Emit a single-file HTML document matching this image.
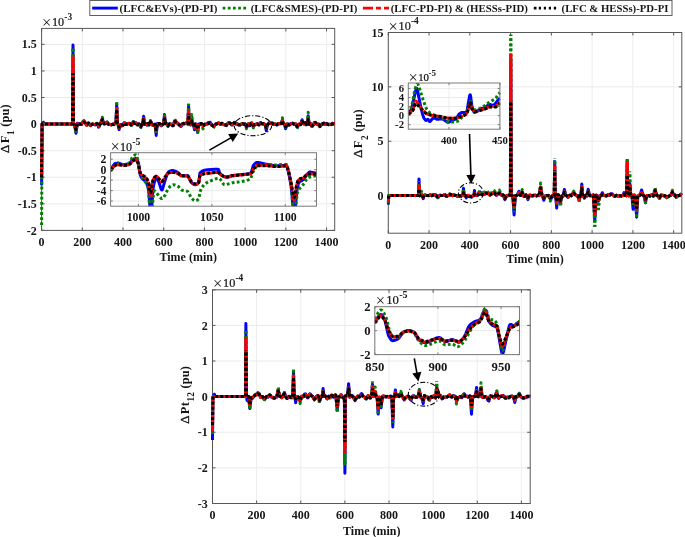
<!DOCTYPE html>
<html lang="en"><head><meta charset="utf-8"><title>Figure</title>
<style>html,body{margin:0;padding:0;background:#fff;}svg{display:block;}</style>
</head><body>
<svg width="685" height="537" viewBox="0 0 685 537" font-family='"Liberation Serif", "DejaVu Serif", serif' fill="#161616">
<rect width="685" height="537" fill="#fff"/>
<rect x="41.6" y="28.4" width="293.1" height="202" fill="#fff"/>
<line x1="41.6" y1="28.4" x2="41.6" y2="230.4" stroke="#ebebeb" stroke-width="0.9"/>
<line x1="82.31" y1="28.4" x2="82.31" y2="230.4" stroke="#ebebeb" stroke-width="0.9"/>
<line x1="123.02" y1="28.4" x2="123.02" y2="230.4" stroke="#ebebeb" stroke-width="0.9"/>
<line x1="163.72" y1="28.4" x2="163.72" y2="230.4" stroke="#ebebeb" stroke-width="0.9"/>
<line x1="204.43" y1="28.4" x2="204.43" y2="230.4" stroke="#ebebeb" stroke-width="0.9"/>
<line x1="245.14" y1="28.4" x2="245.14" y2="230.4" stroke="#ebebeb" stroke-width="0.9"/>
<line x1="285.85" y1="28.4" x2="285.85" y2="230.4" stroke="#ebebeb" stroke-width="0.9"/>
<line x1="326.56" y1="28.4" x2="326.56" y2="230.4" stroke="#ebebeb" stroke-width="0.9"/>
<line x1="41.6" y1="230.4" x2="334.7" y2="230.4" stroke="#ebebeb" stroke-width="1"/>
<line x1="41.6" y1="203.82" x2="334.7" y2="203.82" stroke="#ebebeb" stroke-width="1"/>
<line x1="41.6" y1="177.24" x2="334.7" y2="177.24" stroke="#ebebeb" stroke-width="1"/>
<line x1="41.6" y1="150.66" x2="334.7" y2="150.66" stroke="#ebebeb" stroke-width="1"/>
<line x1="41.6" y1="124.08" x2="334.7" y2="124.08" stroke="#ebebeb" stroke-width="1"/>
<line x1="41.6" y1="97.51" x2="334.7" y2="97.51" stroke="#ebebeb" stroke-width="1"/>
<line x1="41.6" y1="70.93" x2="334.7" y2="70.93" stroke="#ebebeb" stroke-width="1"/>
<line x1="41.6" y1="44.35" x2="334.7" y2="44.35" stroke="#ebebeb" stroke-width="1"/>
<line x1="41.6" y1="230.4" x2="41.6" y2="227.4" stroke="#585858" stroke-width="1"/>
<line x1="41.6" y1="28.4" x2="41.6" y2="31.4" stroke="#585858" stroke-width="1"/>
<line x1="82.31" y1="230.4" x2="82.31" y2="227.4" stroke="#585858" stroke-width="1"/>
<line x1="82.31" y1="28.4" x2="82.31" y2="31.4" stroke="#585858" stroke-width="1"/>
<line x1="123.02" y1="230.4" x2="123.02" y2="227.4" stroke="#585858" stroke-width="1"/>
<line x1="123.02" y1="28.4" x2="123.02" y2="31.4" stroke="#585858" stroke-width="1"/>
<line x1="163.72" y1="230.4" x2="163.72" y2="227.4" stroke="#585858" stroke-width="1"/>
<line x1="163.72" y1="28.4" x2="163.72" y2="31.4" stroke="#585858" stroke-width="1"/>
<line x1="204.43" y1="230.4" x2="204.43" y2="227.4" stroke="#585858" stroke-width="1"/>
<line x1="204.43" y1="28.4" x2="204.43" y2="31.4" stroke="#585858" stroke-width="1"/>
<line x1="245.14" y1="230.4" x2="245.14" y2="227.4" stroke="#585858" stroke-width="1"/>
<line x1="245.14" y1="28.4" x2="245.14" y2="31.4" stroke="#585858" stroke-width="1"/>
<line x1="285.85" y1="230.4" x2="285.85" y2="227.4" stroke="#585858" stroke-width="1"/>
<line x1="285.85" y1="28.4" x2="285.85" y2="31.4" stroke="#585858" stroke-width="1"/>
<line x1="326.56" y1="230.4" x2="326.56" y2="227.4" stroke="#585858" stroke-width="1"/>
<line x1="326.56" y1="28.4" x2="326.56" y2="31.4" stroke="#585858" stroke-width="1"/>
<line x1="41.6" y1="230.4" x2="44.6" y2="230.4" stroke="#585858" stroke-width="1"/>
<line x1="334.7" y1="230.4" x2="331.7" y2="230.4" stroke="#585858" stroke-width="1"/>
<line x1="41.6" y1="203.82" x2="44.6" y2="203.82" stroke="#585858" stroke-width="1"/>
<line x1="334.7" y1="203.82" x2="331.7" y2="203.82" stroke="#585858" stroke-width="1"/>
<line x1="41.6" y1="177.24" x2="44.6" y2="177.24" stroke="#585858" stroke-width="1"/>
<line x1="334.7" y1="177.24" x2="331.7" y2="177.24" stroke="#585858" stroke-width="1"/>
<line x1="41.6" y1="150.66" x2="44.6" y2="150.66" stroke="#585858" stroke-width="1"/>
<line x1="334.7" y1="150.66" x2="331.7" y2="150.66" stroke="#585858" stroke-width="1"/>
<line x1="41.6" y1="124.08" x2="44.6" y2="124.08" stroke="#585858" stroke-width="1"/>
<line x1="334.7" y1="124.08" x2="331.7" y2="124.08" stroke="#585858" stroke-width="1"/>
<line x1="41.6" y1="97.51" x2="44.6" y2="97.51" stroke="#585858" stroke-width="1"/>
<line x1="334.7" y1="97.51" x2="331.7" y2="97.51" stroke="#585858" stroke-width="1"/>
<line x1="41.6" y1="70.93" x2="44.6" y2="70.93" stroke="#585858" stroke-width="1"/>
<line x1="334.7" y1="70.93" x2="331.7" y2="70.93" stroke="#585858" stroke-width="1"/>
<line x1="41.6" y1="44.35" x2="44.6" y2="44.35" stroke="#585858" stroke-width="1"/>
<line x1="334.7" y1="44.35" x2="331.7" y2="44.35" stroke="#585858" stroke-width="1"/>
<rect x="41.6" y="28.4" width="293.1" height="202" fill="none" stroke="#585858" stroke-width="1"/>
<clipPath id="c1"><rect x="39.6" y="28.4" width="297.1" height="202"/></clipPath>
<g clip-path="url(#c1)">
<polyline points="41.6,185.2 42.1,124.1 42.4,124.1 43.4,122.2 44.4,124.1 72.6,124.1 73,44.9 73.5,124.4 73.9,124.5 74.6,125.1 75.3,129.6 76,133.2 77.4,123.2 79.3,123.6 80.5,124.5 80.8,124.6 81.1,124.5 81.5,124.3 82.1,123 82.6,122.2 83.9,120.9 85.2,122.4 86.4,125.1 86.8,125.1 87.1,124.9 88,123.3 88.4,122.8 88.6,122.9 88.9,123.2 89.9,125 90.4,125.6 91.6,124.6 92.5,124.2 93,124.3 93.9,124.4 95,124.9 95.4,124.9 95.8,124.6 96.7,123.6 97,123.4 97.5,124.2 98.6,127.2 99.1,126.3 100.2,123.4 100.6,123.3 101.7,120.5 102.3,118.9 103.2,121.5 103.9,123.9 104.6,124 105.5,123.6 106.2,122.5 107.1,122 107.9,123.5 108.8,124.4 109.2,124.1 109.5,124.2 110.2,124.4 110.6,124.8 110.9,124.8 111.5,124.7 111.8,124.7 112.1,124.4 112.4,124.2 113.7,124.7 114.1,124.6 115.2,123.3 115.5,123.2 115.9,123.3 116,122.8 116.7,104.6 117.4,123.4 117.5,124 117.9,124.1 119.1,129.6 120.4,124.8 120.9,124.6 121.3,124.7 121.6,124.9 122.2,125.6 122.6,125.7 123.2,125.1 123.8,123.3 124.1,122.8 124.4,122.7 124.8,123 125.5,124.2 125.9,124.6 126.3,124.6 127.5,123.7 128.5,123.5 129.1,123.2 129.6,123.4 130,123.7 131.2,125.1 131.6,125.1 131.8,125 132.8,122.6 133.4,121.6 134.1,122.6 134.6,123 135,123.2 135.6,122.6 135.9,122.8 136.3,123.3 137.3,124.9 137.8,124.8 138.7,124.1 138.9,124.1 139.1,124.2 139.7,124.8 140.3,126.5 140.9,127.4 142.1,124 142.6,124.1 143.6,116.3 144.6,123.7 145,123.7 145.8,123.9 146.3,124.6 147,125.2 147.6,123.9 148,123.7 148.3,123.6 149.1,124.9 149.7,123.7 150.5,120.9 151.1,121.9 151.9,124.3 152.3,124.7 152.7,124.9 153.1,124.9 154.5,124.5 155,124.2 156.2,135.4 157.4,123.5 157.8,123.9 158.1,124 158.4,123.9 159.1,123.6 159.6,123.7 160,124.2 160.8,125.5 161.2,125.8 161.6,125.6 162.7,123.8 163.1,123.6 163.5,123.7 164.5,114.6 165.6,123.3 166,123.3 166.6,123.8 167.3,125.5 168,126.5 168.7,125 169.4,123.8 170.5,124 171,124.2 171.4,124.5 172.4,125.8 172.7,125.9 172.9,125.8 173.3,125.2 174.1,122.3 174.5,121.2 174.9,120.6 175.3,120.4 175.9,121.7 176.3,122.3 177.4,123.1 177.9,123.4 179.1,125.1 179.8,125.7 181,126.5 181.8,125.3 182.7,123.7 183.2,123.3 183.8,123.3 184.6,123.5 185.1,123.2 185.4,123.2 186.3,123 187,123.3 187.7,123.8 187.8,123.4 188.6,106.5 189.3,123.7 189.4,124.2 190.4,124.9 190.8,125 191.8,120.1 192.8,124 193.4,124.2 194.5,129.7 195.5,123.8 196.2,124.3 196.5,124.4 197.7,132.5 198.9,123.9 199.5,124.7 200,124.8 200.4,124.6 201.2,123.7 201.5,123.7 201.9,124 203,125.5 203.5,125.3 204.8,124.2 206.5,124.1 207.7,123.1 208.1,122.5 208.3,122.7 208.6,122.7 209.4,122.3 209.7,122.3 210,122.2 210.2,122.3 210.5,122.6 211.9,125.2 212.2,125.5 213.2,126.1 214.4,125.6 215.6,124 216,123.6 216.3,123.5 217.6,123.5 218,123.3 218.7,122.7 219.1,123 219.9,123.8 220.3,124.1 220.7,124.1 221.4,123.5 221.9,123.3 222.3,123.6 223.2,124.5 223.5,124.8 223.8,124.8 224.5,124.7 225,124.8 225.9,125.4 226.2,125.5 226.4,125.4 226.7,125.1 227.8,123.2 228.5,122.8 228.8,122.8 229.5,123 229.9,123 230.7,123.7 231.5,124.8 232,125 232.5,124.6 234,122.5 234.4,122.4 235,122.3 235.4,123.2 235.8,123.6 236.4,123.8 236.8,123.5 237.1,123.5 237.4,123.7 238.2,124.7 238.9,125.1 239.7,125 240.1,125.1 241.3,124.2 241.7,123.8 242.4,123.6 242.9,123.7 243.7,124.3 244.1,124.5 244.5,124.4 245.1,124 245.8,125.4 246.4,127.6 247.1,126.3 247.6,124.8 248.4,123.8 248.9,124.3 249.6,125.8 250.2,125.1 250.8,123.7 251.3,123.1 251.7,122.8 252.2,123.5 253.2,126.2 253.3,126.4 253.4,126.4 253.6,126.4 253.9,126.1 254.9,124.5 255.2,124.4 257.3,124.1 257.7,124.2 258.5,124.8 258.8,124.8 259,124.7 259.4,124.3 260.3,122.8 260.6,122.6 260.8,122.6 261.1,122.7 262.1,123.7 262.5,123.8 263.3,123.5 263.6,123.4 263.9,123.6 264.2,124 265.3,125.7 266.3,130.8 267.3,124.9 267.8,124.4 269.2,122.6 269.5,122.5 269.9,122.6 270.7,123.1 271,123.2 271.3,123.1 271.6,122.9 272.3,123 272.7,123.2 273.6,124.3 273.8,124.4 274.2,124.5 275.1,124.1 275.4,124.1 275.7,124.3 276.1,124.7 276.6,124.9 276.9,125 277.3,124.7 277.7,124.1 278.4,123.8 278.8,123.7 279.3,123.7 280.9,123 281.3,122.9 281.6,123 282.4,119.7 283.2,123.5 283.9,123.6 284.4,124 285.6,128.8 286.2,127.2 286.9,124.3 287.2,124 287.5,123.9 287.8,124 288.6,124.7 289,124.9 289.4,124.7 290.5,123.6 291.1,123.4 292.4,123.2 292.9,123.3 293.3,123.6 294.1,124.3 294.5,124.5 294.9,124.4 295.6,123.8 296.2,124.8 297,127.1 297.7,126.5 298.5,124.7 298.8,124.5 299.1,124.3 299.4,124.2 300.3,124.6 300.7,124.5 302.1,119.8 302.6,121 303.6,123.8 304.2,124 305.2,122.6 306.2,124.8 306.6,124.8 307.1,124.4 307.4,124.1 308.2,115.7 309.1,124.2 309.4,124.2 309.7,124.1 310.5,123.4 310.8,123.8 311.1,124.4 311.7,126.3 312.2,126.4 312.5,126.2 314.2,122.9 314.5,122.5 315,122.4 315.4,122.4 316,123.4 316.8,124.3 317.6,124.7 318,124.7 318.4,124.6 318.8,124.2 319.5,125.4 320,126.7 321.3,124.3 321.7,124.1 322.5,123.5 322.9,123.5 323.4,123.1 324.1,123 324.7,124.2 325,124.5 325.3,124.6 325.8,123.9 326.4,123.6 327,123.9 327.7,124.5 328.6,124.7 329,124.3 329.3,124.3 330.5,124.6 330.8,124.6 331,124.5 332,123.5 332.7,123.2 333.4,123.6 334.7,123.8" fill="none" stroke="#0000ff" stroke-width="3" stroke-linejoin="round"/>
<polyline points="41.6,225.1 42.1,124.1 72.6,124.1 73,46.5" fill="none" stroke="#008000" stroke-width="3" stroke-linejoin="round" stroke-dasharray="2.8 2.3" stroke-dashoffset="0"/>
<polyline points="73,46.5 73.5,123.9 73.9,124.1 74.6,124.8 75.3,129.5 76,133.3 77.4,123.6 78.2,123.9 79.6,123.9 80.8,124.5 81.3,124.4 81.5,124.3 82.7,121.8 83.9,120.6 85.4,122.7 86.4,125 86.7,125.2 87,125.2 87.3,125 88.3,123.6 88.5,123.4 88.8,123.5 89.1,123.8 90.4,125.6 91.8,124.3 92.5,123.8 93.8,124.2 94.9,124.8 95.3,124.9 95.8,124.6 96.7,123.6 97,123.3 97.3,123.7 97.6,124.4 98.6,127.2 98.9,126.9 99.2,126.4 100.2,123.6 100.6,123.5 101.7,119.5 102.3,117.2 103.3,120.7 103.9,123.3 104.8,123.8 105.5,123.8 106.3,122.5 106.6,122.2 107.1,122 108,123.9 108.3,124.3 108.8,124.8 109.3,124.4 109.7,124.3 110.2,124.3 110.9,124.8 111.8,124.9 112.1,124.6 112.4,124.4 113.8,124.5 114.2,124.3 115.2,123 115.5,122.9 115.9,123 116,122.5 116.7,102.4" fill="none" stroke="#008000" stroke-width="3" stroke-linejoin="round" stroke-dasharray="2.8 2.3" stroke-dashoffset="2.8"/>
<polyline points="116.7,102.4 117.4,123.4 117.5,124 117.9,124.2 119.1,128.1 119.7,127.1 120.4,125 121,124.6 121.6,124.7 122,125.7 122.4,126.4 122.7,126.6 123.2,126.7 123.9,124 124.2,123.3 124.6,122.9 124.8,122.9 125.5,124.2 125.8,124.6 126,124.7 126.4,124.5 127.5,123.7 128.5,123.5 129.1,123.1 129.5,123.2 129.9,123.6 131.2,125.3 131.6,125.3 131.8,125.2 132.8,122.6 133.4,121.6 134.1,122.8 134.6,123.2 135,123.2 135.6,122.6 135.9,122.7 136.3,123.2 137.3,124.9 137.5,124.9 137.8,124.8 138.8,124 138.9,123.9 139.2,124.1 139.7,124.6 140.3,126.3 140.9,127.3 142.1,124.3 142.6,124.4 143.6,116.4 144.6,123.9 145.5,124 145.8,123.9 146.2,124.2 147,124.5 147.5,123.6 148,123.5 148.3,123.6 148.8,124.7 149.1,125 149.6,123.9 150.5,120.8 151.1,122.1 151.9,124.8 152.1,125 152.4,125.2 152.7,125.2 153.8,124.6 154.6,124.5 155,124.3 156.2,134 157.4,123 158.1,123.5 159,123.6 159.5,123.8 159.9,124.2 160.7,125.5 161.2,125.8 161.4,125.8 161.7,125.6 162.8,124.3 163.5,123.9 164.5,115.5 165.6,123.3 166.6,123.9 167.2,125 168,126.1 168.5,125.2 169.4,124.1 169.8,124.1 170.5,124 171,124.1 171.3,124.4 172.4,125.9 172.7,126 172.9,125.9 173.3,125.3 174.1,122.5 174.5,121.4 174.9,120.7 175.3,120.4 175.9,121.6 176.4,122.3 177.4,123.2 178,123.6 178.9,124.8 179.9,125.8 181,126.5 182.7,123.5 182.9,123.4 183.2,123.4 184.5,123.7 184.8,123.5 185.1,123.3 186.2,123 187,123.4 187.7,123.8 187.8,123.3 188.6,103.8" fill="none" stroke="#008000" stroke-width="3" stroke-linejoin="round" stroke-dasharray="2.8 2.3" stroke-dashoffset="0.39"/>
<polyline points="188.6,103.8 189.3,123.4 189.4,124 190.8,124.8 191.8,114.4 192.8,124 193.4,124 194.5,128.2 195.5,124.1 196.1,124.3 196.5,124.3 197.7,132.5 198.9,123.9 199.5,124.5 200,124.6 200.3,124.4 201.2,123.6 201.7,124.8 203,128.9 204.8,124.1 205.7,124.3 206.2,124.3 206.5,124.3 207.2,123.8 208.1,123.5 208.4,123.7 208.7,123.7 209.1,123.4 209.9,122.5 210.2,122.3 210.4,122.4 210.7,122.7 211.4,123.8 212.2,126.5 213.2,128.4 215,124.7 216.3,123.6 217.9,123.2 218.7,122.9 219.9,124 220.2,124.2 220.5,124.2 220.7,124.2 221.6,123.3 222,123.2 222.4,123.5 223.5,124.7 223.8,124.8 224.5,124.6 225.1,124.6 225.4,124.8 226.1,125.6 226.4,125.7 226.7,125.5 227,125.1 228,123.1 228.5,122.7 228.8,122.6 229.9,123.1 231.5,124.6 232,124.7 232.5,124.6 233.8,123.1 234.3,122.9 235,123.1 235.4,123.7 235.8,124 236.4,123.9 236.8,123.6 237.1,123.7 237.4,123.9 238.2,124.8 238.9,125.3 240.1,125.1 241.2,124.2 241.7,123.6 242.4,123.3 242.9,123.5 243.8,124.4 244.1,124.6 244.5,124.6 245.1,124.2 245.8,126.1 246.4,128.7 247.1,126.7 247.6,124.7 248.4,123.7 248.9,124.2 249.6,125.6 249.9,125.4 250.2,125 250.8,123.7 251.3,123.1 251.7,123 252.2,124.2 253.3,127.9 253.8,127 254.9,124.3 256,124.4 257.3,124.1 257.7,124.3 258.5,125 258.8,125 259,124.9 259.3,124.5 260.2,122.8 260.5,122.4 260.7,122.4 261,122.5 261.8,123.6 262.1,123.9 262.5,123.9 263.5,123.5 264,123.8 264.9,125.2 265.3,125.6 266.3,129.2 267.3,124.8 268.7,123.1 269.1,122.7 269.5,122.7 270.7,123.4 271.1,123.3 271.6,122.9 272.2,122.9 272.6,123.2 273.4,124.3 273.7,124.5 274.1,124.4 274.9,123.9 275.3,123.9 275.6,124.1 276.1,124.8 276.4,125 276.7,125.1 276.9,125.1 277.2,124.8 277.7,123.8 278.2,123.5 278.6,123.5 279.3,123.9 279.5,123.8 280,123.7 281,123 281.3,122.9 281.6,123 282.4,117.8 283.2,123.9 283.9,123.8 284.4,124.1 285.6,127.3 286.2,126.2 286.9,124.1 287.3,123.8 287.5,123.7 287.8,123.8 288.8,124.6 289.3,124.8 289.7,124.7 291.1,123.7 292.2,123.3 292.6,123.3 292.9,123.4 293.9,124.2 294.3,124.3 294.7,124.2 295.6,123.5 296.2,125.4 297,128.8 297.8,127.1 298.5,124.5 298.9,124.2 299.3,124.1 300.3,124.6 300.7,124.7 302.1,120.7 302.7,121.7 303.6,123.8 304.2,124 305.2,122.5 306.2,124.3 306.7,124.3 307.4,124.1 308.2,112.3 309.1,124.3 309.7,124.2 310.5,123.7 311.1,124.7 311.7,126.2 312.2,126 312.5,125.7 312.9,125 313.9,123.6 314.7,122.1 315.4,121.4 316.1,123.1 316.8,124.4 318,124.5 318.8,124.1 320,128.1 321.3,124.2 321.7,124.2 322.6,123.8 323.5,123.7 324.1,123.7 324.6,124.4 325.1,124.5 325.3,124.4 326,123.8 326.5,123.7 327,123.8 327.8,124.5 328.6,124.8 329.2,124.4 330.5,124.5 330.8,124.5 331,124.3 331.7,123.5 332.3,123.2 332.7,123.2 333.2,123.7 333.6,124 334.3,123.9 334.7,123.8" fill="none" stroke="#008000" stroke-width="3" stroke-linejoin="round" stroke-dasharray="2.8 2.3" stroke-dashoffset="0.8"/>
<polyline points="41.6,177.2 42.1,124.1 72.6,124.1 73,56.6" fill="none" stroke="#ff0000" stroke-width="3" stroke-linejoin="round" stroke-dasharray="6.4 0.6" stroke-dashoffset="0"/>
<polyline points="73,56.6 73.5,123.9 73.9,124.1 74.6,124.7 75.3,127.7 76,130 76.7,126.4 77.4,123.5 78.2,123.9 79.5,124.1 80.5,124.5 81,124.6 81.5,124.3 82.6,122.4 83.9,121.3 85.2,122.8 86.4,124.9 86.7,125 87,124.8 88,123.6 88.4,123.2 88.9,123.6 89.9,125.1 90.4,125.4 91.5,124.4 92.2,124 92.5,123.9 95.3,124.6 95.8,124.4 97,123.5 97.5,124.2 98.6,126.3 99.1,125.7 100.2,123.8 100.6,123.8 101.6,121 102.3,119.1 103.9,123.8 104.7,123.8 105.5,123.6 106.2,122.7 107.1,122.3 107.9,123.6 108.8,124.6 109.5,124.5 110.2,124.6 110.8,124.8 111.8,124.7 112.1,124.4 112.4,124.3 114,124.2 115.2,123.4 115.5,123.3 115.9,123.5 116,123.1 116.7,107.9" fill="none" stroke="#ff0000" stroke-width="3" stroke-linejoin="round" stroke-dasharray="6.4 0.6" stroke-dashoffset="2.3"/>
<polyline points="116.7,107.9 117.4,123.6 117.5,124 117.9,124.1 119.1,127.5 119.7,126.5 120.4,124.8 121,124.6 121.6,124.7 122.2,125.2 122.5,125.3 122.8,125.2 123.2,125 123.8,123.7 124.1,123.3 124.4,123.1 124.8,123.1 125.7,124 126.3,124.2 127.1,124.2 128.1,123.9 128.6,123.7 129.1,123.3 129.4,123.4 130,123.7 131.2,124.8 131.5,124.9 131.8,124.8 132.8,123 133.4,122.2 134.1,123 134.6,123.4 135,123.5 135.6,123.1 135.9,123.2 136.3,123.5 137.3,124.8 137.8,124.7 138.9,124 139.5,124.1 139.7,124.3 140.3,125.5 140.9,126.4 142.1,124.3 142.6,124.4 143.6,119.1 144.6,124 145.8,124.1 146.3,124.5 147,124.7 147.6,123.7 148,123.5 148.3,123.4 149.1,124.4 149.7,123.6 150.5,121.8 151.1,122.7 151.9,124.5 152.2,124.7 152.6,124.8 153,124.8 154.5,124.5 155,124.3 156.2,130.7 157.4,123.4 158.1,123.7 159,123.6 159.5,123.7 159.9,124 160.8,125.1 161.2,125.3 161.6,125.2 162.7,124.2 163.1,124.1 163.5,124.2 164.5,117.9 165.6,123.6 166.1,123.5 166.6,123.5 168,125.4 168.6,124.7 169.4,124.1 169.9,124.2 171.2,124.3 171.6,124.5 172.5,125.5 172.8,125.5 173,125.5 173.3,125.2 174.6,121.9 174.9,121.5 175.3,121.2 176.2,122.4 177.4,123.4 177.9,123.7 179,124.7 181,125.9 181.7,125 182.7,123.7 183,123.5 183.3,123.5 184.5,123.8 184.8,123.8 185.1,123.5 186.2,123.2 186.5,123.3 187.7,124.2 187.8,123.8 188.6,109.8" fill="none" stroke="#ff0000" stroke-width="3" stroke-linejoin="round" stroke-dasharray="6.4 0.6" stroke-dashoffset="4.83"/>
<polyline points="188.6,109.8 189.3,123.4 189.4,123.8 189.9,123.9 190.8,124.6 191.8,120.7 192.8,124.1 193.4,124.1 194.5,127.6 195.5,124.1 196.1,124.4 196.5,124.5 197.7,129.4 198.3,126.3 198.9,123.9 199.4,124.3 199.9,124.5 200.3,124.3 201.2,123.6 201.7,124 203,125.9 204.2,124.7 204.8,124.3 205.8,124.6 206.5,124.6 208.1,123.2 208.6,123.2 209.4,122.8 209.9,122.7 210.2,122.8 210.5,123 212,125.1 213.2,126 214.4,125.4 215,124.7 216,123.8 216.3,123.7 217.8,123.6 218.7,123.2 220,124 220.4,124.1 220.7,124 221.6,123.4 222,123.4 222.5,123.6 223.6,124.5 225.1,124.7 226,125.2 226.3,125.2 226.7,125 227.8,123.8 228.5,123.4 229.9,123.1 230.8,123.6 231.5,124.2 231.9,124.3 232.5,124.2 234,123.3 235,123.3 235.4,123.8 235.7,124 236.4,124.1 237,124 238.1,124.6 238.7,124.8 239.6,124.6 240.1,124.6 241.7,123.8 242.7,123.6 244.1,124.4 244.5,124.4 245.1,124.2 245.8,125.2 246.4,126.6 247.1,125.8 247.6,124.8 248.4,124.1 248.9,124.1 249.6,124.6 250.2,124.1 250.8,123.3 251.3,123.1 251.7,123 252,123.4 253.3,126 253.9,125.7 254.9,124.6 255.9,124.4 257,124 257.6,124 258.6,124.5 259,124.6 259.4,124.3 260.3,123.2 260.8,123 261.1,123.1 261.8,123.7 262.2,123.9 262.5,123.9 263.5,123.7 264.1,123.9 265.3,125.1 266.3,127.8 267.3,124.8 267.8,124.4 268.8,123.3 269.2,123 269.8,123 270.9,123.6 271.2,123.5 271.6,123.3 272.4,123.2 272.8,123.4 273.6,124.2 273.9,124.3 274.3,124.4 275.4,124.1 275.7,124.2 276.1,124.5 276.6,124.6 276.9,124.6 277.3,124.4 277.7,123.9 278.3,123.7 278.8,123.7 279.3,123.9 280,123.8 281.1,123.5 281.6,123.5 282.4,120.6 283.2,123.7 283.9,123.6 284.4,123.8 285.6,126.6 286.2,125.8 286.9,124.1 287.3,123.7 287.5,123.7 287.8,123.7 288.8,124.8 289.3,125 289.7,124.8 291.1,123.8 292,123.5 292.6,123.3 293.1,123.4 294.1,124.2 294.5,124.3 294.9,124.2 295.6,123.7 296.2,124.5 297,126.4 297.7,126 298.5,124.6 298.9,124.3 299.4,124.2 300.3,124.6 300.7,124.6 302.1,121.4 302.7,122.2 303.6,123.9 304.2,124 305.2,122.7 306.2,124.2 306.7,124.2 307.4,124.1 308.2,118.2 309.1,124.3 309.6,124.2 310.5,123.6 311,124.3 311.7,126 311.8,126 312.2,126 312.5,125.8 313.3,124.6 314.3,122.8 314.7,122.5 315.1,122.3 315.4,122.3 316.1,123.4 316.8,124.3 317.9,124.5 318.3,124.4 318.8,124.1 319.5,125.1 320,126.2 321.3,124.4 321.8,124.3 322.5,124 322.9,123.9 323.3,123.8 324.1,123.7 324.6,124.2 325.1,124.3 325.3,124.3 326,123.7 326.6,123.7 327,123.7 327.7,124.1 328.6,124.3 328.9,124.2 329.3,124.2 330.5,124.7 330.8,124.8 331.1,124.7 332.7,123.6 334.1,123.6 334.7,123.7" fill="none" stroke="#ff0000" stroke-width="3" stroke-linejoin="round" stroke-dasharray="6.4 0.6" stroke-dashoffset="5.61"/>
<polyline points="41.6,177.2 42.1,124.1 72.6,124.1 73,73.6" fill="none" stroke="#000000" stroke-width="3" stroke-linejoin="round" stroke-dasharray="3 2.1" stroke-dashoffset="0"/>
<polyline points="73,73.6 73.5,124.2 73.9,124.2 74.6,124.7 75.3,127.4 76,129.5 76.8,125.7 77.4,123.3 78.9,124 80.2,124.3 80.9,124.2 81.5,124 82.4,123 83.9,122 85.3,123.1 86.4,124.6 86.5,124.7 86.9,124.7 87.2,124.5 88.4,123.3 88.7,123.3 89.1,123.6 90.4,125.2 91.4,124.9 92.5,124.3 93.6,124 94.2,124.1 95.2,124.4 95.6,124.4 97,123.6 97.6,124.3 98.6,125.9 99.1,125.5 100.2,124 100.6,124 102.3,119.5 103.9,123.8 104.5,123.8 105.5,123.4 106.2,122.8 107.1,122.6 107.9,123.8 108.8,124.6 110.6,124.6 111.4,124.4 111.8,124.5 112.3,124.2 113.8,124.3 115.1,123.5 115.5,123.4 115.9,123.6 116,123.2 116.7,109.5" fill="none" stroke="#000000" stroke-width="3" stroke-linejoin="round" stroke-dasharray="3 2.1" stroke-dashoffset="1.5"/>
<polyline points="116.7,109.5 117.4,123.5 117.5,123.9 117.9,124.1 119.1,127 120.4,124.7 120.9,124.7 121.6,124.8 122.1,125.1 122.5,125.1 123.2,124.7 123.7,123.6 123.9,123.4 124.2,123.2 124.8,123.4 125.5,124.2 126,124.4 128.2,123.8 129.1,123.3 129.2,123.3 129.8,123.6 130.9,124.7 131.3,124.9 131.8,124.7 132.7,123.2 133.4,122.5 134,123.2 134.5,123.5 135,123.5 135.6,123 135.9,123.1 137.3,124.6 137.7,124.6 138.6,124 139,124 139.7,124.5 140.3,125.6 140.9,126.2 141.6,124.8 142,124.1 142.1,124 142.6,124.2 143.6,119.8 144.6,124.2 145.8,124 146.2,124.2 147,124.3 147.5,123.6 148,123.4 148.3,123.4 149.1,124.6 149.6,123.9 150.5,121.7 151.1,122.6 151.9,124.7 152.3,125 152.6,125.1 152.9,125.1 154,124.6 155,124.3 156.2,129.6 157.4,123.2 158.1,123.5 159,123.4 159.5,123.5 159.9,123.9 160.9,125.4 161.2,125.6 161.5,125.5 162.7,124.2 163.1,124 163.5,124.1 164.5,118.8 165.6,123.5 166.1,123.4 166.6,123.7 167.3,124.8 168,125.5 168.7,124.5 169.4,123.9 170,124 170.8,124 171.3,124.1 171.7,124.4 172.6,125.5 172.9,125.6 173.1,125.6 173.3,125.4 173.5,125 174.6,122.3 174.9,121.8 175.3,121.5 176.1,122.6 176.6,123.1 177.4,123.5 178,123.7 178.9,124.3 179.4,124.6 181,125.6 181.7,125.1 182.7,124 183.2,123.6 183.8,123.6 184.8,123.9 185.1,123.8 185.5,123.8 186.5,123.5 187.1,123.6 187.7,123.8 187.8,123.6 188.6,113.8" fill="none" stroke="#000000" stroke-width="3" stroke-linejoin="round" stroke-dasharray="3 2.1" stroke-dashoffset="4.29"/>
<polyline points="188.6,113.8 189.3,123.6 189.4,123.9 190.8,124.5 191.8,121 192.8,123.9 193.4,124.1 194.5,127.5 195.5,124.2 196.5,124.3 197.7,129.2 198.9,123.9 199.4,124.1 199.9,124.1 201.2,123.4 201.8,124 203,126.1 203.5,125.8 204.8,124.2 206.5,124.5 207.5,124 208.1,123.5 208.6,123.4 209.4,122.9 210,122.7 210.3,122.7 210.6,123 211.4,123.8 212.1,125 213.2,126 214.4,125.2 215,124.6 216,124.2 216.6,124 218.7,123.2 219.8,123.8 220.3,124 220.7,123.9 221.6,123.4 222.1,123.4 223.6,124.3 225.1,124.8 226.2,125.3 226.7,125.1 227.9,123.8 228.6,123.4 229.1,123.2 229.9,123.1 231.2,124.2 231.6,124.5 232.1,124.4 233.1,123.6 234,123.3 235,123.3 235.4,123.7 235.8,123.9 236.4,124 237,123.9 238,124.6 238.8,124.8 239.6,124.7 240.1,124.8 241.7,123.8 242.2,123.7 242.7,123.7 244,124.2 245.1,123.9 245.7,124.7 246.4,126.3 247,125.7 247.6,124.5 248.4,123.9 248.8,124.1 249.6,125.1 249.7,125.1 250.2,124.8 250.8,123.9 251.3,123.4 251.7,123.2 252.2,123.7 253.3,125.5 253.8,125.2 254.9,124.4 255.8,124.5 257,123.9 257.6,124 258.6,124.9 259,124.9 259.4,124.5 260.3,123.3 260.6,123.1 260.8,123.1 262.1,123.8 262.4,123.8 263.4,123.5 263.7,123.6 264,123.8 264.9,124.7 265.3,124.9 266.3,127.3 267.3,124.9 267.9,124.5 268.9,123.4 269.3,123 269.8,123.1 270.6,123.6 271,123.8 272,123.3 272.5,123.3 272.9,123.5 273.6,124.1 273.9,124.2 274.2,124.2 275.1,123.8 275.4,123.9 275.7,124 276.1,124.4 276.7,124.7 277.2,124.6 277.7,124 278.3,123.8 278.7,123.9 279.3,124.3 279.8,124.3 280.3,124.1 281.2,123.3 281.6,123.1 282.4,120.7 283.2,123.6 283.9,123.7 284.4,124 285.6,126.6 286.2,125.8 286.9,124 287.2,123.8 287.4,123.8 287.7,123.8 288.6,124.8 289,125 289.4,124.8 290.4,123.7 290.9,123.6 292.1,123.8 293.4,123.8 294.5,124.1 294.9,124.1 295.6,123.7 296.3,124.7 297,126.4 297.7,126 298.1,125.4 298.5,124.6 299.1,124.2 299.6,124.1 300.4,124.6 300.7,124.7 301.2,123.7 302.1,121.4 302.6,122 303.6,123.8 303.8,123.9 304.2,124.1 305.2,122.9 306.2,124.1 306.7,124.2 307.2,124.1 307.4,124.1 308.2,119.5 309.1,124.3 309.7,124.4 310.5,123.9 311.1,124.4 311.7,125.5 312.3,125.5 312.6,125.3 313.4,124.5 314.5,122.8 315,122.5 315.4,122.4 316.1,123.4 316.8,124.2 318.1,124.4 318.8,124.2 319.5,125.2 320,126.1 321.3,124.3 321.9,124.3 322.9,123.9 323.4,123.6 324.1,123.5 324.6,124.1 325.1,124.4 325.3,124.4 326.2,123.8 326.7,123.7 327,123.7 327.7,124.2 328.6,124.5 329.1,124.2 329.5,124.2 330.2,124.2 331,124.5 332.7,123.8 333.3,123.9 334.7,123.7" fill="none" stroke="#000000" stroke-width="3" stroke-linejoin="round" stroke-dasharray="3 2.1" stroke-dashoffset="2.43"/>
</g>
<text x="36.8" y="234.5" font-size="12" text-anchor="end" font-weight="bold">-2</text>
<text x="36.8" y="207.92" font-size="12" text-anchor="end" font-weight="bold">-1.5</text>
<text x="36.8" y="181.34" font-size="12" text-anchor="end" font-weight="bold">-1</text>
<text x="36.8" y="154.76" font-size="12" text-anchor="end" font-weight="bold">-0.5</text>
<text x="36.8" y="128.18" font-size="12" text-anchor="end" font-weight="bold">0</text>
<text x="36.8" y="101.61" font-size="12" text-anchor="end" font-weight="bold">0.5</text>
<text x="36.8" y="75.03" font-size="12" text-anchor="end" font-weight="bold">1</text>
<text x="36.8" y="48.45" font-size="12" text-anchor="end" font-weight="bold">1.5</text>
<text x="41.6" y="246.3" font-size="12" text-anchor="middle" font-weight="bold">0</text>
<text x="82.31" y="246.3" font-size="12" text-anchor="middle" font-weight="bold">200</text>
<text x="123.02" y="246.3" font-size="12" text-anchor="middle" font-weight="bold">400</text>
<text x="163.72" y="246.3" font-size="12" text-anchor="middle" font-weight="bold">600</text>
<text x="204.43" y="246.3" font-size="12" text-anchor="middle" font-weight="bold">800</text>
<text x="245.14" y="246.3" font-size="12" text-anchor="middle" font-weight="bold">1000</text>
<text x="285.85" y="246.3" font-size="12" text-anchor="middle" font-weight="bold">1200</text>
<text x="326.56" y="246.3" font-size="12" text-anchor="middle" font-weight="bold">1400</text>
<text x="42" y="28.1" font-size="16.5" font-weight="normal">&#215;</text>
<text x="52" y="26.3" font-size="12.2" font-weight="normal" stroke="#000" stroke-width="0.2">10</text>
<text x="64.3" y="20.3" font-size="9.4" font-weight="bold">-3</text>
<text x="188.2" y="261.3" font-size="12" text-anchor="middle" font-weight="bold">Time (min)</text>
<text transform="translate(8.7,152.9) rotate(-90)" font-size="12.4" font-weight="bold"><tspan font-weight="normal" font-size="13" stroke="#000" stroke-width="0.3">&#916;</tspan><tspan dx="1.2" letter-spacing="0.4">F</tspan><tspan font-size="9.3" dy="5.2" dx="0.3">1</tspan><tspan dy="-5.2" dx="3.6" letter-spacing="0.1">(pu)</tspan></text>
<ellipse cx="252.9" cy="125.7" rx="18.8" ry="10" fill="none" stroke="#000" stroke-width="1.1" stroke-dasharray="5 2 1.2 2"/>
<line x1="209.4" y1="150.1" x2="231.26" y2="137.58" stroke="#000" stroke-width="1.6"/>
<polygon points="238.2,133.6 232.68,142.07 228.1,134.08" fill="#000"/>
<rect x="110.6" y="152.7" width="205.9" height="53.5" fill="#fff"/>
<line x1="138.48" y1="152.7" x2="138.48" y2="206.2" stroke="#ebebeb" stroke-width="0.9"/>
<line x1="211.86" y1="152.7" x2="211.86" y2="206.2" stroke="#ebebeb" stroke-width="0.9"/>
<line x1="285.24" y1="152.7" x2="285.24" y2="206.2" stroke="#ebebeb" stroke-width="0.9"/>
<line x1="110.6" y1="201.07" x2="316.5" y2="201.07" stroke="#ebebeb" stroke-width="1"/>
<line x1="110.6" y1="190.62" x2="316.5" y2="190.62" stroke="#ebebeb" stroke-width="1"/>
<line x1="110.6" y1="180.16" x2="316.5" y2="180.16" stroke="#ebebeb" stroke-width="1"/>
<line x1="110.6" y1="169.7" x2="316.5" y2="169.7" stroke="#ebebeb" stroke-width="1"/>
<line x1="110.6" y1="159.24" x2="316.5" y2="159.24" stroke="#ebebeb" stroke-width="1"/>
<clipPath id="c2"><rect x="110.6" y="152.7" width="207.4" height="53.5"/></clipPath>
<g clip-path="url(#c2)">
<polyline points="110.6,169.2 111.1,168.7 111.6,168.1 114.2,164.3 114.7,163.8 115.2,163.5 117.3,163.1 118.3,163.1 118.9,163.2 122,164.4 123,164.6 125,164.5 127.6,164.1 128.7,163.8 129.2,163.6 129.7,163.2 132.3,160.1 133.3,159.3 134.9,158.8 135.9,158.5 136.4,158.6 136.9,159.1 137.4,160.2 138.5,163.3 139,166.3 139.5,170.6 140,173.8 140.5,175.5 141,176.8 141.6,177.7 142.1,178.5 143.1,179.4 144.7,180.4 145.7,181.5 146.2,182.3 146.7,183.4 147.8,186.6 148.3,188.7 148.8,191.5 150.3,212 150.9,214.7 151.4,212 152.9,190.5 153.4,186.6 153.9,184 155,179.7 155.5,178.4 156,177.7 156.5,177.8 157,178.4 157.6,179.3 159.1,182.7 161.2,189.2 161.7,190 162.2,189.8 162.7,188.6 164.3,182.9 164.8,181.2 166.3,176.5 167.4,173.8 167.9,172.7 168.4,172.1 169.9,171.1 171.5,170.6 172.5,170.5 174.1,170.8 175.6,171.4 177.2,172.1 178.2,172.7 178.7,173.1 180.3,174.9 180.8,175.4 181.3,175.7 181.8,175.8 187.5,175.8 188,176.1 188.5,176.9 190.6,181.5 191.1,182.3 192.7,183.6 193.7,184.3 194.7,184.7 195.2,184.7 196.3,184.4 197.3,183.6 198.3,182.4 198.8,181.5 199.9,173.2 200.4,172.5 201.9,171.3 203,170.7 204.5,170.3 207.6,169.8 211.2,169.5 214.8,169.2 217.9,169.2 218.5,169.6 219.5,172.3 220,173.4 221,174.4 222.6,175.6 224.1,176.5 225.7,177.1 226.7,177.1 228.3,176.8 230.8,175.8 232.4,175.4 246.8,173.9 249.4,173.4 251,172.9 251.5,171.9 253,166.4 253.5,165.2 255.1,163.4 256.1,162.7 256.6,162.5 258.2,162.6 259.7,162.8 270.6,165.1 273.7,165.6 276.8,165.7 286.1,165.4 286.6,165.5 287.1,166.7 288.6,173 289.7,178 290.7,184 291.2,187.5 291.7,192.3 293.3,209.7 293.8,213.4 294.3,214.7 294.8,212.6 295.3,207.8 296.4,195.4 296.9,190.5 297.9,185.4 298.4,183.6 299,182.5 300,181.5 301,180.9 302.6,180.1 303.6,179.4 304.6,178.2 307.7,173.7 308.8,172.6 309.3,172.2 309.8,172 310.8,172.1 314.4,172.8 316.5,173" fill="none" stroke="#0000ff" stroke-width="3" stroke-linejoin="round"/>
<polyline points="110.6,170.7 111.1,170.4 111.6,169.9 114.2,166.1 114.7,165.5 115.2,165.1 116.8,164.2 117.8,163.9 118.3,163.8 119.4,164 122.5,164.6 124,164.6 126.1,164.2 128.7,163.5 129.2,163.1 129.7,162.3 131.8,158.4 132.3,157.6 133.3,156.5 134.3,155.5 135.4,154.8 135.9,154.7 136.4,155.3 136.9,156.7 138,160.8 138.5,163.2 139.5,170.2 140,172.9 140.5,174.6 141.6,177 142.6,178.8 145.2,181.9 146.7,183.4 147.2,184 147.8,185.1 148.3,188.9 149.8,209.4 150.3,214.6 150.9,216.6 151.4,215 151.9,210.9 153.4,194.8 153.9,191.6 154.5,191 155,191.2 156,192.2 157.6,194.2 160.7,197.9 161.2,198.4 161.7,198.6 162.2,198.5 162.7,198.2 163.2,197.7 164.8,195.6 165.8,193.7 167.4,190 167.9,189 168.4,188.2 170.5,186.1 172,185 173,184.7 174.6,184.9 176.1,185.4 178.2,186.4 179.2,187.4 180.8,189.3 181.3,189.8 181.8,190.1 183.4,190.5 185.9,190.9 187.5,191.4 188,191.8 188.5,192.6 190.6,196.6 191.1,197.4 192.7,199.2 193.7,200.2 194.2,200.6 194.7,200.8 195.7,200.8 196.8,200.4 197.3,200.1 198.3,199.2 198.8,198.6 199.4,195.9 199.9,192.3 200.4,190.8 201.4,188.5 203,186 204.5,184.3 206.1,183.1 207.6,182.2 209.7,181.2 215.9,178.8 217.4,178.4 219,178.3 219.5,178.4 220,178.8 220.5,179.5 222.6,182.8 223.6,184.2 224.1,184.6 224.6,184.7 225.7,184.6 226.7,184.4 230.8,183.2 232.4,182.8 240.1,181.8 245.8,180.7 248.4,179.9 249.9,179.2 250.4,178.9 251,177.9 253,172.1 254.1,170.2 255.6,167.5 256.1,166.9 256.6,166.4 257.2,166.2 259.2,165.5 261.3,165 263.3,164.6 264.9,164.5 268,164.5 273.7,164.9 275.7,165 278.3,164.9 283.5,164.5 286.1,164.4 286.6,164.6 287.1,165.6 288.6,171 289.7,175.8 290.7,182 291.2,185.7 291.7,191.3 293.3,212.3 293.8,216.9 294.3,218.5 294.8,216.8 295.3,212.9 296.9,196.7 297.4,193 297.9,191.4 298.4,190.3 299,189.4 300,188 303.1,184.7 304.1,183.2 306.2,179.8 307.2,178.4 307.7,177.9 309.3,177.2 311.3,176.6 313.4,176.2 316.5,175.7" fill="none" stroke="#008000" stroke-width="3" stroke-linejoin="round" stroke-dasharray="2.8 2.3"/>
<polyline points="110.6,169.7 111.1,169.5 111.6,169.1 113.7,166.8 114.7,165.7 115.8,165.2 117.3,164.7 118.3,164.6 119.4,164.7 122,165.3 123,165.4 125.6,165.2 128.7,164.8 129.2,164.6 129.7,164.2 131.8,161.7 132.8,160.6 133.3,160.3 133.8,160.1 135.4,159.7 135.9,159.7 136.4,160 136.9,160.7 137.4,161.8 138,163 138.5,164.6 139.5,170.3 140,172.3 140.5,173.5 141,174.3 142.1,175.6 143.1,176.3 144.7,177.1 145.7,177.9 146.7,179.2 147.8,181.2 148.3,182.5 148.8,184.3 149.8,192.2 150.3,195.4 150.9,195.8 151.4,192.9 152.4,183.5 152.9,180.6 153.9,178.3 155,176.7 155.5,176.2 156,176 156.5,176.1 157,176.5 157.6,177.1 160.7,181.2 161.2,181.8 161.7,182 162.2,181.9 162.7,181.3 164.3,178.4 166.8,174.4 167.9,173.3 168.4,173 169.4,172.7 171,172.5 172,172.4 173,172.4 174.6,172.6 176.1,173 178.2,173.6 178.7,173.9 180.8,175.6 181.3,175.9 181.8,176 187.5,176 188,176.3 188.5,176.9 190.6,180.9 191.1,181.7 192.7,183.2 193.7,184 194.7,184.5 195.2,184.5 196.3,184.4 197.3,184 198.3,183.3 198.8,182.8 199.9,176 200.4,175.4 201.4,174.7 202.5,174.2 204,173.8 207.6,173.3 211.2,172.9 214.8,172.6 217.9,172.6 218.5,172.7 219,173.1 220.5,174.6 223.6,176.5 224.6,176.9 225.7,177.2 226.2,177.3 227.2,177.3 228.3,177 231.4,176 232.4,175.8 246.8,174.3 248.9,174 251,173.5 251.5,173 252,172.1 253.5,169 254.1,168.2 255.6,166.3 256.1,165.9 256.6,165.6 267,165.6 269,165.7 273.7,166.4 275.7,166.5 278.3,166.4 283.5,165.9 286.1,165.7 286.6,165.9 287.1,166.8 288.6,171.9 289.1,174 291.2,184.3 293.3,197.7 293.8,199.8 294.3,200.5 294.8,198.8 296.4,186.6 296.9,184.2 297.4,182.5 297.9,181.1 298.4,180.2 299,179.7 300,179.1 302.6,178.3 303.6,177.7 304.6,176.8 306.7,174.6 307.2,174.2 307.7,174 316.5,173.9" fill="none" stroke="#ff0000" stroke-width="3" stroke-linejoin="round" stroke-dasharray="6.4 0.6"/>
<polyline points="110.6,169.7 111.1,169.5 111.6,169.1 113.7,166.8 114.7,165.7 115.2,165.4 116.3,165 117.3,164.7 118.3,164.6 119.4,164.7 122,165.3 123.5,165.4 126.1,165.2 128.7,164.8 129.2,164.6 129.7,164.2 131.8,161.9 132.8,160.9 133.3,160.6 134.9,160.3 135.9,160.2 136.4,160.5 136.9,161.1 137.4,162 138,163.1 138.5,164.6 139.5,170 140,172 140.5,173 141,173.8 142.1,175 143.1,175.6 144.7,176.4 145.7,177.1 146.7,178.4 147.8,180.4 148.8,183.3 149.8,189.8 150.3,192.3 150.9,192.7 151.4,190.3 152.4,182.9 152.9,180.6 153.9,178.5 155,177 155.5,176.6 156,176.4 156.5,176.5 157,176.8 157.6,177.4 158.6,178.6 160.7,180.8 161.2,181.3 161.7,181.5 162.2,181.4 162.7,180.9 164.3,178.3 167.4,173.8 167.9,173.3 168.4,173 169.9,172.6 171.5,172.4 173,172.4 174.6,172.6 176.1,173 178.2,173.6 178.7,173.9 180.8,175.5 181.3,175.7 181.8,175.8 187.5,175.8 188,176.1 188.5,176.7 190.6,180.6 191.1,181.3 192.7,182.8 193.7,183.5 194.7,183.9 195.2,184 196.3,183.8 197.3,183.5 198.3,182.9 198.8,182.4 199.9,176 200.4,175.4 201.4,174.7 202.5,174.2 204,173.8 207.6,173.3 211.2,172.9 214.8,172.6 217.9,172.6 218.5,172.7 219,173.1 220.5,174.6 223.6,176.3 224.6,176.8 225.7,177.1 227.2,177.1 228.3,176.9 230.8,176.1 232.4,175.8 246.8,174.3 248.9,174 251,173.5 251.5,172.9 252,172.1 253.5,168.9 254.1,168.2 255.6,166.4 256.1,166 256.6,165.8 267,165.8 269,165.9 273.7,166.4 275.7,166.5 278.3,166.4 283.5,165.9 286.1,165.7 286.6,165.9 287.1,166.8 288.6,171.9 289.1,173.8 291.2,183.2 293.3,195.1 293.8,197 294.3,197.6 294.8,196.2 296.4,186 296.9,183.8 297.4,182.2 297.9,180.8 298.4,179.8 299,179.4 300,178.8 302.6,178.1 303.6,177.6 304.6,176.7 306.7,174.6 307.2,174.2 307.7,174 316.5,173.9" fill="none" stroke="#000000" stroke-width="3" stroke-linejoin="round" stroke-dasharray="3 2.1"/>
</g>
<line x1="138.48" y1="206.2" x2="138.48" y2="204" stroke="#7a7a7a" stroke-width="1"/>
<line x1="138.48" y1="152.7" x2="138.48" y2="154.9" stroke="#7a7a7a" stroke-width="1"/>
<line x1="211.86" y1="206.2" x2="211.86" y2="204" stroke="#7a7a7a" stroke-width="1"/>
<line x1="211.86" y1="152.7" x2="211.86" y2="154.9" stroke="#7a7a7a" stroke-width="1"/>
<line x1="285.24" y1="206.2" x2="285.24" y2="204" stroke="#7a7a7a" stroke-width="1"/>
<line x1="285.24" y1="152.7" x2="285.24" y2="154.9" stroke="#7a7a7a" stroke-width="1"/>
<line x1="110.6" y1="201.07" x2="112.8" y2="201.07" stroke="#7a7a7a" stroke-width="1"/>
<line x1="316.5" y1="201.07" x2="314.3" y2="201.07" stroke="#7a7a7a" stroke-width="1"/>
<line x1="110.6" y1="190.62" x2="112.8" y2="190.62" stroke="#7a7a7a" stroke-width="1"/>
<line x1="316.5" y1="190.62" x2="314.3" y2="190.62" stroke="#7a7a7a" stroke-width="1"/>
<line x1="110.6" y1="180.16" x2="112.8" y2="180.16" stroke="#7a7a7a" stroke-width="1"/>
<line x1="316.5" y1="180.16" x2="314.3" y2="180.16" stroke="#7a7a7a" stroke-width="1"/>
<line x1="110.6" y1="169.7" x2="112.8" y2="169.7" stroke="#7a7a7a" stroke-width="1"/>
<line x1="316.5" y1="169.7" x2="314.3" y2="169.7" stroke="#7a7a7a" stroke-width="1"/>
<line x1="110.6" y1="159.24" x2="112.8" y2="159.24" stroke="#7a7a7a" stroke-width="1"/>
<line x1="316.5" y1="159.24" x2="314.3" y2="159.24" stroke="#7a7a7a" stroke-width="1"/>
<rect x="110.6" y="152.7" width="205.9" height="53.5" fill="none" stroke="#7a7a7a" stroke-width="1"/>
<text x="106.3" y="205.09" font-size="11.8" text-anchor="end" font-weight="bold">-6</text>
<text x="106.3" y="194.63" font-size="11.8" text-anchor="end" font-weight="bold">-4</text>
<text x="106.3" y="184.17" font-size="11.8" text-anchor="end" font-weight="bold">-2</text>
<text x="106.3" y="173.71" font-size="11.8" text-anchor="end" font-weight="bold">0</text>
<text x="106.3" y="163.25" font-size="11.8" text-anchor="end" font-weight="bold">2</text>
<text x="138.48" y="221.4" font-size="11.8" text-anchor="middle" font-weight="bold">1000</text>
<text x="211.86" y="221.4" font-size="11.8" text-anchor="middle" font-weight="bold">1050</text>
<text x="285.24" y="221.4" font-size="11.8" text-anchor="middle" font-weight="bold">1100</text>
<text x="110.4" y="152.3" font-size="16.5" font-weight="normal">&#215;</text>
<text x="119.9" y="150.5" font-size="12" font-weight="normal" stroke="#000" stroke-width="0.2">10</text>
<text x="132.2" y="144.5" font-size="9.8" font-weight="bold">-5</text>
<rect x="388.3" y="32.5" width="293.5" height="200.7" fill="#fff"/>
<line x1="388.3" y1="32.5" x2="388.3" y2="233.2" stroke="#ebebeb" stroke-width="0.9"/>
<line x1="429.06" y1="32.5" x2="429.06" y2="233.2" stroke="#ebebeb" stroke-width="0.9"/>
<line x1="469.83" y1="32.5" x2="469.83" y2="233.2" stroke="#ebebeb" stroke-width="0.9"/>
<line x1="510.59" y1="32.5" x2="510.59" y2="233.2" stroke="#ebebeb" stroke-width="0.9"/>
<line x1="551.36" y1="32.5" x2="551.36" y2="233.2" stroke="#ebebeb" stroke-width="0.9"/>
<line x1="592.12" y1="32.5" x2="592.12" y2="233.2" stroke="#ebebeb" stroke-width="0.9"/>
<line x1="632.88" y1="32.5" x2="632.88" y2="233.2" stroke="#ebebeb" stroke-width="0.9"/>
<line x1="673.65" y1="32.5" x2="673.65" y2="233.2" stroke="#ebebeb" stroke-width="0.9"/>
<line x1="388.3" y1="195.58" x2="681.8" y2="195.58" stroke="#ebebeb" stroke-width="1"/>
<line x1="388.3" y1="141.22" x2="681.8" y2="141.22" stroke="#ebebeb" stroke-width="1"/>
<line x1="388.3" y1="86.86" x2="681.8" y2="86.86" stroke="#ebebeb" stroke-width="1"/>
<line x1="388.3" y1="32.5" x2="681.8" y2="32.5" stroke="#ebebeb" stroke-width="1"/>
<line x1="388.3" y1="233.2" x2="388.3" y2="230.2" stroke="#585858" stroke-width="1"/>
<line x1="388.3" y1="32.5" x2="388.3" y2="35.5" stroke="#585858" stroke-width="1"/>
<line x1="429.06" y1="233.2" x2="429.06" y2="230.2" stroke="#585858" stroke-width="1"/>
<line x1="429.06" y1="32.5" x2="429.06" y2="35.5" stroke="#585858" stroke-width="1"/>
<line x1="469.83" y1="233.2" x2="469.83" y2="230.2" stroke="#585858" stroke-width="1"/>
<line x1="469.83" y1="32.5" x2="469.83" y2="35.5" stroke="#585858" stroke-width="1"/>
<line x1="510.59" y1="233.2" x2="510.59" y2="230.2" stroke="#585858" stroke-width="1"/>
<line x1="510.59" y1="32.5" x2="510.59" y2="35.5" stroke="#585858" stroke-width="1"/>
<line x1="551.36" y1="233.2" x2="551.36" y2="230.2" stroke="#585858" stroke-width="1"/>
<line x1="551.36" y1="32.5" x2="551.36" y2="35.5" stroke="#585858" stroke-width="1"/>
<line x1="592.12" y1="233.2" x2="592.12" y2="230.2" stroke="#585858" stroke-width="1"/>
<line x1="592.12" y1="32.5" x2="592.12" y2="35.5" stroke="#585858" stroke-width="1"/>
<line x1="632.88" y1="233.2" x2="632.88" y2="230.2" stroke="#585858" stroke-width="1"/>
<line x1="632.88" y1="32.5" x2="632.88" y2="35.5" stroke="#585858" stroke-width="1"/>
<line x1="673.65" y1="233.2" x2="673.65" y2="230.2" stroke="#585858" stroke-width="1"/>
<line x1="673.65" y1="32.5" x2="673.65" y2="35.5" stroke="#585858" stroke-width="1"/>
<line x1="388.3" y1="195.58" x2="391.3" y2="195.58" stroke="#585858" stroke-width="1"/>
<line x1="681.8" y1="195.58" x2="678.8" y2="195.58" stroke="#585858" stroke-width="1"/>
<line x1="388.3" y1="141.22" x2="391.3" y2="141.22" stroke="#585858" stroke-width="1"/>
<line x1="681.8" y1="141.22" x2="678.8" y2="141.22" stroke="#585858" stroke-width="1"/>
<line x1="388.3" y1="86.86" x2="391.3" y2="86.86" stroke="#585858" stroke-width="1"/>
<line x1="681.8" y1="86.86" x2="678.8" y2="86.86" stroke="#585858" stroke-width="1"/>
<line x1="388.3" y1="32.5" x2="391.3" y2="32.5" stroke="#585858" stroke-width="1"/>
<line x1="681.8" y1="32.5" x2="678.8" y2="32.5" stroke="#585858" stroke-width="1"/>
<rect x="388.3" y="32.5" width="293.5" height="200.7" fill="none" stroke="#585858" stroke-width="1"/>
<clipPath id="c3"><rect x="386.3" y="32.5" width="297.5" height="200.7"/></clipPath>
<g clip-path="url(#c3)">
<polyline points="388.3,204.7 388.8,195.6 418.6,195.6 419,178.9 419.4,195.6 419.8,195.6 419.9,195.7 420.5,195.2 421,194.5 421.5,194.3 422.1,195.3 422.5,197 423.2,198.7 424.2,195.4 424.6,195 424.9,194.9 425.3,195 426.3,195.5 428.5,195.6 429.1,195.4 430.1,194.6 430.5,194.8 431.4,195.5 431.8,195.7 432.4,195.5 433,195 433.3,194.9 434.6,195 435.3,194.7 435.7,194.7 436,194.9 436.3,195.3 437.3,197.4 437.6,197.7 437.8,197.8 438.2,197.5 439.3,195.6 439.8,195.2 440.2,195.1 441.3,195.4 442.8,195.5 443.2,195.4 444.1,194.7 444.6,194.6 445.1,194.8 446,196.2 446.3,196.4 446.5,196.5 446.9,196.3 447.9,195.4 449.1,195.3 449.5,195.2 450.5,194.2 451,194.5 452,195.4 452.5,195.7 453.5,195 454,194.9 454.5,195 455.3,195.5 456.2,195.6 456.8,195.8 457.7,196.5 458,196.6 458.4,196.5 459.3,195.8 459.7,195.7 460.1,195.7 460.9,196.1 461.3,196.1 462.8,195 463.5,188.3 464.2,195.2 465.1,195.3 466.2,197.9 467.2,195.4 467.7,195.4 468,195.4 469.3,196.6 469.6,196.7 470,196.5 470.7,196.7 471.2,196.9 471.5,197.2 471.8,196.8 472.9,195.7 473.3,195.6 473.8,195.3 474.5,190.4 475.2,195.1 476.4,195.6 477.5,195.2 478,194.9 478.5,194.2 479.5,192.3 480,191.8 481.1,193.5 481.4,193.8 481.9,194 482.5,194.2 483,194 483.3,194.1 483.7,194.4 484.4,194.3 485,194 486.1,192.8 486.8,193.1 487.9,193.2 488.3,193.3 488.7,193.7 489.2,194.4 489.8,194.9 490.2,194.7 491.2,193.9 492.5,193.6 492.9,193.2 493.3,192.5 493.9,192.2 494.2,192.2 494.5,192.3 494.8,192.7 495.9,194.9 496.2,195.3 496.5,195.4 497.3,194.4 498.1,193.2 499.4,192.2 500.7,194.3 501.3,195 501.7,195.1 502.2,195.1 502.6,194.7 503.1,194.7 503.5,195.7 504.4,198.6 504.9,199.7 506.1,196.8 506.7,195.7 507.3,195.8 507.7,195.7 508.8,195 509.2,194.9 509.6,194.9 510.4,195.1 510.8,59.2 511.2,195 511.6,195 511.9,195.2 512.8,196.3 514.1,215 515.3,195.8 515.9,195.8 516.3,195.8 517.5,194.7 518.1,192.9 518.9,191.3 519.6,193.4 520.4,195.3 520.8,195.1 521.3,194 522.2,192.6 523.6,196.3 524.2,196.3 524.7,196.1 526.1,194.8 526.7,196.1 527.9,199.6 528.4,198.5 529.8,194.9 530.2,195 531.2,195.7 531.9,195.9 532.2,196 533.2,195.7 534,195.2 534.8,195.1 535.3,195.1 535.9,195.5 536.4,195.7 536.9,195.7 537.7,195.1 538.1,195 538.5,195 539.1,195.5 540.6,187 542,195.5 542.4,195.7 543.8,200.3 545.2,195.9 546.7,195.6 547.8,195.5 548.3,195.3 549,196.1 549.4,196.7 550.3,199.1 550.8,198.8 551.3,198.3 552.4,195.7 552.7,195.6 553,195.6 554.1,196.4 554.2,195.1 554.7,161.6 555.2,194.6 555.3,195.8 555.6,195.5 556.7,208.1 557.7,194.5 558.3,194.8 558.9,195.5 559.7,199.6 560.5,202.6 561.3,198.9 562.2,196 562.6,196.2 563,196.2 564.4,189.4 565.8,195.3 566.4,195.6 567.9,197.4 568.5,197 569.3,195.6 569.9,195.1 570.4,195.1 571.3,195.7 571.8,195.1 573,193 573.4,192.5 573.8,192.2 574.6,193.8 575.7,194.8 576.2,195.5 577.2,196.2 577.5,196.2 577.9,196.1 579.1,200.3 580.3,195.3 580.9,195.6 581.8,184 582.7,196.3 583.2,196.1 584.4,198.3 584.9,196.7 585.6,195.4 586.2,196.1 586.5,196.2 586.8,196.2 588.2,189.3 589.7,195.7 590.4,195.7 591.3,195.9 591.7,195.9 592.1,195.7 592.9,195 593.3,194.8 594.8,220.5 596.2,195.5 596.6,195.3 597,195.3 598.4,201.2 599.9,195.7 600.5,195.9 600.9,195.8 602.3,192.7 603.7,195.4 604.8,195.6 605.9,196.1 606.3,196.1 606.7,195.9 607.5,194.9 607.9,194.6 608.3,194.7 609.1,195.1 609.5,195 610,194.7 610.5,193.9 610.9,193.7 611.3,193.6 611.7,193.7 612.1,193.9 613.2,195 614.1,196.1 614.5,196.4 614.8,196.5 615.3,196.4 616.3,195.4 616.7,195.3 617.2,195.4 618.1,196.1 618.5,196.2 619.4,196.1 619.7,195.9 620,195.8 620.9,196 621.6,195.9 622.9,195.6 624.1,192.6 625.3,195.4 626.4,195.9 626.5,195 627.2,163.1 627.9,194.4 628,195.3 628.4,195.4 628.9,195.8 629.8,183.3 630.7,195.5 631.4,194.9 631.9,195 633.1,209.3 634.3,195 635.3,196.2 636.6,217.2 637.8,196 638.5,195.8 639.7,194.9 640.2,194.9 641.6,190 643.1,194.9 643.5,195.2 644.1,196.1 644.8,199.8 645.5,202.7 646.9,195.5 648.4,195.4 648.8,195.5 649.6,196.1 650,196.2 650.4,195.9 651.3,194.8 651.7,194.7 652.1,194.9 652.9,195.7 653.3,196 655.1,189.7 656.9,195.8 657.5,195.9 658.2,196.2 658.9,197.6 659.6,198.4 660.4,196.2 661,194.9 662.9,195.3 664.3,196 664.6,196 664.9,195.9 665.9,196.6 666.5,197.6 666.9,197.3 667.5,197.1 668.1,196.6 668.4,196.6 668.8,196.4 670,195.5 670.8,195.1 671.6,193.2 672.4,191.9 673,193.6 673.6,194.8 674.1,195.3 674.7,194.8 674.9,194.9 675.4,195.6 676.1,197.2 676.4,197.1 676.7,197 677.5,195.8 677.7,195.7 678.3,195.4 679.2,195.6 679.7,195.3 680.8,194.3 681.8,195.2" fill="none" stroke="#0000ff" stroke-width="3" stroke-linejoin="round"/>
<polyline points="388.3,203.2 388.8,195.6 418.6,195.6 419,181" fill="none" stroke="#008000" stroke-width="3" stroke-linejoin="round" stroke-dasharray="2.8 2.3" stroke-dashoffset="0"/>
<polyline points="419,181 419.4,195.6 419.8,195.6 419.9,195.7 420.5,195.4 421.5,191.2 422.1,194 422.5,196.5 423.2,197.8 424.2,195.3 424.6,195 424.9,194.9 425.3,195 426.3,195.4 427.2,195.5 428.8,195.7 429.3,195.6 430.1,194.8 430.6,194.9 431.6,195.5 432.1,195.6 432.5,195.5 433.5,194.9 435.2,194.6 435.5,194.7 435.8,194.8 436.1,195.1 437.2,197.2 437.7,197.6 437.9,197.5 438.2,197.3 439.3,195.7 439.7,195.3 440.1,195.3 441.3,195.5 442.8,195.6 443.3,195.4 444.1,194.7 444.6,194.6 444.9,194.6 445.2,194.9 446.2,196.2 446.5,196.3 446.7,196.3 447,196.2 447.9,195.5 448.4,195.4 449.5,194.2 450.5,192.7 451.9,194.9 452.5,195.6 453.3,195.1 453.8,194.9 454.3,195.1 455.2,195.5 456.4,195.6 458,196.4 458.3,196.4 459.5,195.8 459.9,195.9 460.8,196.2 461.1,196.2 461.5,196 462.4,195.2 462.8,195.1 463.5,188.9 464.2,195.4 465.1,195.3 466.2,196.6 467.2,195.4 467.9,195.2 468.4,195.5 469.2,196.3 469.5,196.5 469.7,196.6 470,196.5 470.9,196.6 471.5,196.9 472.9,195.8 473.3,195.7 473.8,195.4 474.5,193.2 475.2,195.3 476.4,195.5 478.1,193.6 479.5,190.9 480,190.3 481.3,193 481.8,193.5 482.5,193.8 482.8,193.6 483.1,193.5 483.7,193.8 484.4,193.3 485,192.5 486.1,190.2 488.2,192.2 488.7,193 489.2,194.1 489.8,194.7 490.3,194.2 491.5,192.5 492.6,191.6 493.3,190.3 494.2,190.7 494.6,191 495.9,193.6 496.5,194.4 497.3,193.5 498.1,192 499.4,190.1 501.3,194.3 501.7,194.9 502.2,195.4 502.6,195 503.1,194.9 503.5,195.7 504.4,197.9 504.9,198.8 506.2,196.2 506.7,195.4 507.7,195.4 509.2,194.8 509.6,194.8 510.4,195.1 510.8,34.8" fill="none" stroke="#008000" stroke-width="3" stroke-linejoin="round" stroke-dasharray="2.8 2.3" stroke-dashoffset="1.78"/>
<polyline points="510.8,34.8 511.2,195.2 511.9,195.5 512.8,196.5 514.1,212.1" fill="none" stroke="#008000" stroke-width="3" stroke-linejoin="round" stroke-dasharray="2.8 2.3" stroke-dashoffset="1.61"/>
<polyline points="514.1,212.1 515.3,195.8 516.2,195.6 517.5,194.5 518.1,193.5 518.9,192.6 519.6,194.1 520.4,195.4 520.8,195.3 522.2,189.5 523.6,196.3 524.2,196.3 524.7,196.2 526.1,194.7 526.4,195 526.7,195.5 527.9,198.2 528.4,197.5 529.3,195.5 529.8,194.9 530.2,194.9 531.3,195.6 532.2,196 533.3,195.9 534,195.4 534.9,195 535.4,195.1 535.9,195.5 536.5,195.7 536.9,195.7 537.7,195.2 538.1,195.1 538.5,195.1 539.1,195.6 540.6,183 542,195.5 542.4,195.7 543.8,199 545.2,196.1 545.6,196 546.9,195.3 547.9,195.4 548.3,195.4 549.5,198.3 550.3,201.1 551.4,199 552.4,195.8 553,195.7 554.1,196.3 554.2,194.9 554.7,158.2" fill="none" stroke="#008000" stroke-width="3" stroke-linejoin="round" stroke-dasharray="2.8 2.3" stroke-dashoffset="1.53"/>
<polyline points="554.7,158.2 555.2,194.4 555.3,195.8 555.6,195.5 556.7,203.5 557.7,194.6 558.2,194.7 558.9,195.6 559.7,201.6 560.5,206.5 561.3,200.7 562.2,195.8 562.7,196.1 563,196.2 564.4,191.6 565,192.9 565.8,195.2 566.4,195.5 567.9,197.4 568.5,196.9 569.3,195.5 569.8,195.1 570.3,195.1 571.3,195.8 571.8,194.9 573.1,192.2 573.8,191.2 574.7,193.3 576.2,195.5 577.2,195.9 577.9,195.8 579.1,202.3 580.3,195.2 580.9,195.5 581.8,186.8 582.7,196.6 583.2,196.4 584.4,198.1 584.9,196.6 585.6,195.3 586.2,195.9 586.5,196 586.8,195.9 588.2,191.4 589.7,195.8 591.6,195.9 592,195.7 592.9,195.1 593.3,195 594.8,227" fill="none" stroke="#008000" stroke-width="3" stroke-linejoin="round" stroke-dasharray="2.8 2.3" stroke-dashoffset="2.46"/>
<polyline points="594.8,227 596.2,195.2 596.6,195.3 597,195.5 598.4,210.1" fill="none" stroke="#008000" stroke-width="3" stroke-linejoin="round" stroke-dasharray="2.8 2.3" stroke-dashoffset="0.71"/>
<polyline points="598.4,210.1 599.9,195.6 600.5,195.9 600.9,195.9 602.3,194 603.7,195.2 604.9,195.3 606,196.1 606.4,196.2 606.8,196.1 607.6,195.2 608,194.9 608.4,194.9 609.1,195.1 609.5,195.1 610,194.7 610.5,194 610.9,193.7 611.3,193.6 612,193.9 613.4,195 614.1,195.8 614.9,196.3 615.5,196.2 616.4,195.6 616.8,195.5 617.6,195.7 618,196.1 618.4,196.2 619.4,196.2 619.9,195.9 620.9,196.1 621.6,196 622.9,195.4 624.1,193.8 625.3,195.3 626.4,195.7 626.5,194.7 627.2,157.8" fill="none" stroke="#008000" stroke-width="3" stroke-linejoin="round" stroke-dasharray="2.8 2.3" stroke-dashoffset="0.63"/>
<polyline points="627.2,157.8 627.9,194.5 628,195.5 628.4,195.6 628.9,195.9 629.8,171.6" fill="none" stroke="#008000" stroke-width="3" stroke-linejoin="round" stroke-dasharray="2.8 2.3" stroke-dashoffset="3.78"/>
<polyline points="629.8,171.6 630.7,195.7 631.4,195.1 631.9,195 633.1,204.9" fill="none" stroke="#008000" stroke-width="3" stroke-linejoin="round" stroke-dasharray="2.8 2.3" stroke-dashoffset="2.29"/>
<polyline points="633.1,204.9 634.3,194.9 634.7,195.2 635.3,195.9 636.6,217.1" fill="none" stroke="#008000" stroke-width="3" stroke-linejoin="round" stroke-dasharray="2.8 2.3" stroke-dashoffset="0.68"/>
<polyline points="636.6,217.1 637.8,196.2 638.4,195.9 639.5,194.9 639.8,194.8 640.2,194.9 641.1,193.8 641.6,192.9 642.6,194 643.1,194.9 643.5,195.3 644.1,196 644.8,199.8 645.5,202.7 646.9,195.3 647.7,195.2 648.2,195.3 649.4,196 649.8,196.1 650.3,195.8 651.2,194.9 651.6,194.8 652,195 652.9,195.9 653.3,196.2 655.1,187.7 656.9,195.6 657.5,195.6 658.2,195.9 658.9,197.4 659.6,198.2 660.4,196.3 661,195.1 662.9,195.3 664.3,196.1 664.6,196.1 664.9,195.9 665.9,196.5 666.5,197.6 666.8,197.4 667.6,197.2 668.1,196.6 668.6,196.4 669.7,195.5 670.2,195.3 670.8,195.2 672.4,190.2 673.2,193 674.1,195.2 674.6,194.8 674.8,194.9 675.3,195.7 676.1,197.4 676.4,197.3 676.7,197.1 677.5,195.8 677.7,195.6 678.3,195.4 679.2,195.7 679.8,195.2 680.8,194.1 681.8,195.1" fill="none" stroke="#008000" stroke-width="3" stroke-linejoin="round" stroke-dasharray="2.8 2.3" stroke-dashoffset="5.08"/>
<polyline points="388.3,202.1 388.8,195.6 418.6,195.6 419,184.7" fill="none" stroke="#ff0000" stroke-width="3" stroke-linejoin="round" stroke-dasharray="6.4 0.6" stroke-dashoffset="0"/>
<polyline points="419,184.7 419.4,195.6 419.8,195.6 419.9,195.7 420.4,195.5 421.1,194.7 421.5,194.4 422.1,195.1 422.5,196.3 423.2,197.4 423.6,196.7 424.2,195.5 424.6,195.2 425,195.1 426.4,195.6 428.7,195.7 429.3,195.5 430.1,195 430.6,195 431.6,195.4 432,195.5 432.5,195.4 433.1,195.1 433.5,195 435.5,195.1 436.2,195.4 437.2,196.7 437.5,196.9 437.8,196.9 438.3,196.7 439.3,195.8 439.9,195.6 441.7,195.4 443.1,195.5 443.5,195.4 444.4,194.9 444.8,194.8 445.3,195 446.2,195.9 446.7,196.1 447.8,195.6 448.4,195.6 449.3,195.3 449.9,195 450.5,194.4 452.5,195.5 453.4,195 453.9,195 454.5,195.1 455.3,195.5 457.7,196.3 458.2,196.2 459,195.8 459.5,195.6 461.1,196 462.3,195.4 462.8,195.3 463.5,192.2 464.2,195.5 465.1,195.3 466.2,196.4 467.2,195.4 467.7,195.3 468.1,195.3 468.5,195.5 469.4,196.2 469.7,196.3 470,196.2 471.1,196.6 471.5,196.9 472.9,195.8 473.8,195.4 474.5,193.5 475.2,195.3 476.4,195.5 478.2,194.5 479.5,193 480,192.6 481,193.9 481.5,194.3 482.5,194.6 483.1,194.5 483.7,194.7 484.2,194.5 484.6,194.3 486.1,192.6 487.1,193.1 488.4,193.5 488.8,193.9 489.2,194.5 489.8,195.1 489.9,195.1 490.5,194.9 492.5,193.7 492.9,193.3 493.3,192.8 494.1,192.8 494.6,193 495.9,194.5 496.5,194.9 497.3,194.4 498.1,193.7 499.4,193 500.6,194.4 501.3,195 502.2,195.2 502.6,195 503.1,195 504.4,198 504.9,198.8 506.7,195.5 507.7,195.5 509.1,195 510.4,195.3 510.8,53.9" fill="none" stroke="#ff0000" stroke-width="3" stroke-linejoin="round" stroke-dasharray="6.4 0.6" stroke-dashoffset="1.17"/>
<polyline points="510.8,53.9 511.2,195.2 511.9,195.4 512.8,196.2 514.1,207.3" fill="none" stroke="#ff0000" stroke-width="3" stroke-linejoin="round" stroke-dasharray="6.4 0.6" stroke-dashoffset="6.69"/>
<polyline points="514.1,207.3 515.3,195.8 516.2,195.6 517.5,194.8 518.1,193.8 518.9,193 519.6,194.2 520.4,195.4 520.8,195.3 522.2,192.3 523.6,196.2 524.6,196 526.1,195 526.6,195.6 527.5,197.3 527.9,197.8 528.3,197.3 529.3,195.4 529.8,194.9 530.2,195 531.3,195.6 532.2,195.8 533.4,195.8 534,195.5 535,195.3 536.6,195.7 538.1,195.2 538.5,195.3 539.1,195.6 540.6,187 542,195.4 542.4,195.6 543.8,198 545.2,195.9 547.7,195.7 548.3,195.6 549.4,196.6 550.3,198.3 550.8,197.9 551.3,197.5 552.4,195.4 552.7,195.3 553,195.4 554.1,196.2 554.2,195 554.7,164.7" fill="none" stroke="#ff0000" stroke-width="3" stroke-linejoin="round" stroke-dasharray="6.4 0.6" stroke-dashoffset="6.3"/>
<polyline points="554.7,164.7 555.2,194.8 555.3,195.9 555.6,195.7 556.7,202.9 557.7,195 558.3,195.1 558.9,195.5 559.8,199.1 560.5,201.3 561.3,198.2 562.2,195.7 562.7,195.9 563,196 564.4,192 565,193.3 565.8,195.4 566.4,195.6 567.9,197 568.6,196.5 569.3,195.7 569.7,195.5 570.3,195.4 571.3,195.7 572.9,193.5 573.3,193.1 573.8,192.8 574.7,194.1 575.7,194.9 576.2,195.4 577.3,195.9 577.9,195.9 579.1,199.6 580.3,195.4 580.9,195.6 581.8,187.3 582.7,196.3 583.2,196.1 584.4,197.2 584.9,196.1 585.6,195.2 586.2,195.8 586.5,195.9 586.8,195.9 588.2,191.9 589.7,195.8 591.5,195.9 592,195.7 592.9,195.2 593.3,195.1 594.8,215.7" fill="none" stroke="#ff0000" stroke-width="3" stroke-linejoin="round" stroke-dasharray="6.4 0.6" stroke-dashoffset="5.96"/>
<polyline points="594.8,215.7 596.2,195.2 596.6,195.3 597,195.5 597.8,198.8 598.4,200.8" fill="none" stroke="#ff0000" stroke-width="3" stroke-linejoin="round" stroke-dasharray="6.4 0.6" stroke-dashoffset="4.57"/>
<polyline points="598.4,200.8 599.9,195.5 600.9,195.8 602.3,194.3 603.7,195.5 604.9,195.5 606.1,195.9 606.4,195.9 606.8,195.7 607.5,195 607.9,194.8 608.3,194.8 609.1,195.2 609.5,195.2 610,195 610.5,194.5 611.3,194.2 612,194.5 614.1,195.9 614.5,196 615.2,196 616.2,195.4 616.6,195.3 617.1,195.4 618.3,196.1 619.4,195.9 619.9,195.8 621.1,196.1 621.7,196 622.9,195.4 624.1,194 625.3,195.6 626.4,195.7 626.5,194.8 627.2,161.1" fill="none" stroke="#ff0000" stroke-width="3" stroke-linejoin="round" stroke-dasharray="6.4 0.6" stroke-dashoffset="2.94"/>
<polyline points="627.2,161.1 627.9,194.4 628,195.4 628.4,195.5 628.9,195.8 629.8,184.2" fill="none" stroke="#ff0000" stroke-width="3" stroke-linejoin="round" stroke-dasharray="6.4 0.6" stroke-dashoffset="2.32"/>
<polyline points="629.8,184.2 630.7,195.6 631.4,195.2 631.9,195.1 633.1,203.9" fill="none" stroke="#ff0000" stroke-width="3" stroke-linejoin="round" stroke-dasharray="6.4 0.6" stroke-dashoffset="6.14"/>
<polyline points="633.1,203.9 634.3,195.2 635.3,195.9 636.6,210.4" fill="none" stroke="#ff0000" stroke-width="3" stroke-linejoin="round" stroke-dasharray="6.4 0.6" stroke-dashoffset="6.63"/>
<polyline points="636.6,210.4 637.8,196 638.4,195.7 639.5,195 639.8,195 640.2,195.1 641.1,193.9 641.6,192.9 642.6,194 643.1,194.9 643.5,195.2 644.1,195.9 644.8,198.1 645.5,199.6 646.9,195.5 648.2,195.6 649.7,195.8 650.2,195.7 651.1,195.1 651.5,195 651.9,195.2 652.9,195.9 653.3,196 655.1,189.9 656.9,195.6 658.2,196.1 658.9,197.1 659.6,197.7 660.3,196.3 661,195.4 661.8,195.5 663,195.3 664.3,195.8 664.6,195.8 664.9,195.7 665.9,196.2 666.5,197 666.8,196.8 667.6,196.8 668.1,196.5 668.7,196.4 669.9,195.7 670.8,195.4 672.4,192 673.2,193.8 674.1,195.1 674.7,194.8 674.9,195 675.3,195.4 676.1,196.8 676.4,196.8 676.7,196.6 677.5,195.8 677.7,195.7 678.3,195.5 679.2,195.7 679.8,195.5 680.8,194.7 681.8,195.4" fill="none" stroke="#ff0000" stroke-width="3" stroke-linejoin="round" stroke-dasharray="6.4 0.6" stroke-dashoffset="3.21"/>
<polyline points="388.3,198.8 388.8,195.6 418.6,195.6 419,189.6" fill="none" stroke="#000000" stroke-width="3" stroke-linejoin="round" stroke-dasharray="3 2.1" stroke-dashoffset="0"/>
<polyline points="419,189.6 419.4,195.6 419.8,195.6 419.9,195.8 420.2,195.7 420.5,195.6 421.1,194.9 421.5,194.7 422.1,195.3 422.5,196.2 423.2,197.1 424.2,195.5 424.9,195.1 425.3,195.1 426.3,195.4 427.3,195.4 428.9,195.6 429.4,195.5 430.1,195.2 431.4,195.7 431.8,195.8 432.4,195.6 433.1,195.1 433.5,194.9 435.3,194.9 435.7,195 436.1,195.2 437.2,196.6 437.5,196.8 437.8,196.9 438.2,196.7 439.3,195.8 439.6,195.7 441.1,195.6 442.9,195.4 444.5,194.8 445.1,195 446.3,196.1 446.8,196.1 447.8,195.7 448.4,195.7 449.3,195.4 449.9,195 450.5,194.4 451.1,194.7 452.5,195.6 453.6,195.2 454.5,195.2 456.2,195.5 457.6,196.3 458,196.4 458.3,196.4 459.5,195.7 461.1,195.9 462.3,195.2 462.8,195.1 463.5,192.9 464.2,195.5 465.1,195.4 466.2,196.3 467.2,195.4 467.7,195.4 468.2,195.6 469.2,196.5 469.6,196.6 470,196.4 470.8,196.3 471.2,196.3 471.5,196.4 471.9,196 472.9,195.5 473.8,195.4 474.5,194 475.2,195.4 476.4,195.6 477.7,195.1 478.4,194.7 479.5,193.3 480,193 481.1,194.2 481.6,194.5 482.5,194.5 483.1,194.2 483.7,194.3 484.5,194.2 485,194 486.1,193.2 487.1,193.7 488.4,194 488.8,194.3 489.2,194.8 489.8,195.1 490.3,194.9 491.4,194.1 492.6,193.6 493.3,192.9 494.1,192.8 494.7,193.2 495.9,194.8 496.5,195.3 497.3,194.9 498,194.3 499.4,193.2 501,194.8 501.5,195.2 502.2,195.3 502.6,195 503.1,194.9 503.5,195.5 504.9,198.3 506.7,195.8 507.7,195.8 509.3,195.1 510.4,195.1 510.8,102.7" fill="none" stroke="#000000" stroke-width="3" stroke-linejoin="round" stroke-dasharray="3 2.1" stroke-dashoffset="4.75"/>
<polyline points="510.8,102.7 511.2,195.1 511.9,195.4 512.8,196.1 514.1,206" fill="none" stroke="#000000" stroke-width="3" stroke-linejoin="round" stroke-dasharray="3 2.1" stroke-dashoffset="0.25"/>
<polyline points="514.1,206 515.3,195.7 516.2,195.6 517.5,195 518,194.3 518.9,193.5 519.6,194.5 520.4,195.4 520.8,195.2 521.4,193.8 522.2,192.3 523.6,196.1 524.2,196.2 524.7,196.2 526.1,195.1 526.7,195.6 527.9,197.5 528.4,197 529.3,195.6 529.8,195.2 530.2,195.2 531,195.6 531.5,195.7 532.2,195.6 534,195.3 534.5,195.3 535.2,195.5 535.9,195.9 536.3,196 536.8,195.9 537.6,195.3 538,195.1 538.5,195.1 539.1,195.5 540.6,187.9 542,195.4 542.4,195.5 543.8,197.9 545.2,196 546.8,195.6 547.9,195.6 548.3,195.5 549.5,196.5 550.3,197.9 550.9,197.6 551.4,197.2 552.4,195.7 553,195.7 554.1,196.1 554.2,195.1 554.7,170" fill="none" stroke="#000000" stroke-width="3" stroke-linejoin="round" stroke-dasharray="3 2.1" stroke-dashoffset="0.47"/>
<polyline points="554.7,170 555.2,194.8 555.3,195.8 555.6,195.6 556.7,201.7 557.7,194.9 558.3,195 558.9,195.4 559.8,198.8 560.5,200.8 561.3,198 562.2,195.8 562.7,196 563,196 564.4,192.4 565,193.5 565.8,195.3 566.4,195.5 567.9,196.8 568.5,196.6 569.3,195.6 569.9,195.3 570.5,195.2 571.3,195.6 571.9,195.1 573.1,193.9 573.8,193.3 574.6,194.3 575.7,194.9 576.2,195.3 577.3,195.8 577.9,195.8 579.1,199 580.3,195.4 580.9,195.6 581.8,188.3 582.7,196.2 583.2,196.1 584.4,197.2 584.9,196.2 585.6,195.4 586.2,195.9 586.5,195.9 586.8,195.8 588.2,192 589.7,195.6 591.6,195.9 592.9,195.3 593.3,195.3 594.8,211.4" fill="none" stroke="#000000" stroke-width="3" stroke-linejoin="round" stroke-dasharray="3 2.1" stroke-dashoffset="2.47"/>
<polyline points="594.8,211.4 596.2,195.3 596.6,195.3 597,195.4 598.4,200" fill="none" stroke="#000000" stroke-width="3" stroke-linejoin="round" stroke-dasharray="3 2.1" stroke-dashoffset="1.88"/>
<polyline points="598.4,200 599.9,195.5 600.9,195.8 602.3,194.8 603.7,195.6 604.9,195.4 606.4,195.8 606.8,195.7 607.5,195.1 607.9,194.9 608.3,194.9 609.1,195.2 609.5,195.2 610,195.1 610.5,194.6 611,194.4 611.4,194.4 612,194.6 614.1,195.9 614.5,196 615.3,196 616.3,195.4 616.7,195.3 617.3,195.5 618.1,196 618.5,196 619.4,195.9 620,195.7 621,195.9 621.7,195.9 622.9,195.6 624.1,194.3 625.3,195.5 626.4,195.8 626.5,195.2 627.2,175.4" fill="none" stroke="#000000" stroke-width="3" stroke-linejoin="round" stroke-dasharray="3 2.1" stroke-dashoffset="4.84"/>
<polyline points="627.2,175.4 627.9,194.8 628,195.3 628.4,195.3 628.9,195.5 629.8,186.2" fill="none" stroke="#000000" stroke-width="3" stroke-linejoin="round" stroke-dasharray="3 2.1" stroke-dashoffset="4.49"/>
<polyline points="629.8,186.2 630.7,195.7 631.4,195.4 631.9,195.3 633.1,202.9" fill="none" stroke="#000000" stroke-width="3" stroke-linejoin="round" stroke-dasharray="3 2.1" stroke-dashoffset="4"/>
<polyline points="633.1,202.9 634.3,195.2 635.3,196 636.6,208.7" fill="none" stroke="#000000" stroke-width="3" stroke-linejoin="round" stroke-dasharray="3 2.1" stroke-dashoffset="0.89"/>
<polyline points="636.6,208.7 637.8,195.7 639.4,195.1 639.8,195 640.2,195.2 641.1,194.2 641.6,193.3 642.6,194.4 643.1,195.2 644.1,195.9 644.7,197.6 645.5,199.1 646.9,195.4 648.4,195.5 649.8,195.9 650.3,195.8 651.2,195.2 651.6,195.1 652,195.3 652.9,195.8 653.3,195.9 655.1,190.6 656.9,195.6 657.5,195.6 658.2,195.9 658.9,196.9 659.6,197.5 661,195.3 662.5,195.2 663,195.3 664.3,195.9 664.6,195.9 664.9,195.8 665.8,196.2 666.2,196.5 666.5,196.9 666.8,196.8 667.6,196.7 668.1,196.4 668.7,196.3 669.8,195.7 670.8,195.3 671.6,193.5 672.4,192.2 673.2,194 674.1,195.3 674.7,195.1 674.9,195.2 675.3,195.6 676.1,196.8 676.4,196.8 676.7,196.7 677.5,195.8 677.8,195.6 678.3,195.5 679.2,195.7 679.8,195.4 680.8,194.6 681.8,195.2" fill="none" stroke="#000000" stroke-width="3" stroke-linejoin="round" stroke-dasharray="3 2.1" stroke-dashoffset="0.67"/>
</g>
<text x="383.5" y="199.68" font-size="12" text-anchor="end" font-weight="bold">0</text>
<text x="383.5" y="145.32" font-size="12" text-anchor="end" font-weight="bold">5</text>
<text x="383.5" y="90.96" font-size="12" text-anchor="end" font-weight="bold">10</text>
<text x="383.5" y="36.6" font-size="12" text-anchor="end" font-weight="bold">15</text>
<text x="388.3" y="249.1" font-size="12" text-anchor="middle" font-weight="bold">0</text>
<text x="429.06" y="249.1" font-size="12" text-anchor="middle" font-weight="bold">200</text>
<text x="469.83" y="249.1" font-size="12" text-anchor="middle" font-weight="bold">400</text>
<text x="510.59" y="249.1" font-size="12" text-anchor="middle" font-weight="bold">600</text>
<text x="551.36" y="249.1" font-size="12" text-anchor="middle" font-weight="bold">800</text>
<text x="592.12" y="249.1" font-size="12" text-anchor="middle" font-weight="bold">1000</text>
<text x="632.88" y="249.1" font-size="12" text-anchor="middle" font-weight="bold">1200</text>
<text x="673.65" y="249.1" font-size="12" text-anchor="middle" font-weight="bold">1400</text>
<text x="388.6" y="31.5" font-size="16.5" font-weight="normal">&#215;</text>
<text x="398.6" y="29.7" font-size="12.2" font-weight="normal" stroke="#000" stroke-width="0.2">10</text>
<text x="410.9" y="23.7" font-size="9.4" font-weight="bold">-4</text>
<text x="535" y="262.5" font-size="12" text-anchor="middle" font-weight="bold">Time (min)</text>
<text transform="translate(362.4,157.8) rotate(-90)" font-size="12.4" font-weight="bold"><tspan font-weight="normal" font-size="13" stroke="#000" stroke-width="0.3">&#916;</tspan><tspan dx="1.2" letter-spacing="0.4">F</tspan><tspan font-size="9.3" dy="5.2" dx="0.3">2</tspan><tspan dy="-5.2" dx="3.6" letter-spacing="0.1">(pu)</tspan></text>
<ellipse cx="470.8" cy="192.9" rx="12.4" ry="10.1" fill="none" stroke="#000" stroke-width="1.1" stroke-dasharray="5 2 1.2 2"/>
<line x1="469.5" y1="134" x2="470.93" y2="175.8" stroke="#000" stroke-width="1.6"/>
<polygon points="471.2,183.8 466.3,174.96 475.49,174.65" fill="#000"/>
<rect x="408.3" y="83" width="91.6" height="46.2" fill="#fff"/>
<line x1="449.01" y1="83" x2="449.01" y2="129.2" stroke="#ebebeb" stroke-width="0.9"/>
<line x1="499.9" y1="83" x2="499.9" y2="129.2" stroke="#ebebeb" stroke-width="0.9"/>
<line x1="408.3" y1="124.67" x2="499.9" y2="124.67" stroke="#ebebeb" stroke-width="1"/>
<line x1="408.3" y1="115.61" x2="499.9" y2="115.61" stroke="#ebebeb" stroke-width="1"/>
<line x1="408.3" y1="106.55" x2="499.9" y2="106.55" stroke="#ebebeb" stroke-width="1"/>
<line x1="408.3" y1="97.49" x2="499.9" y2="97.49" stroke="#ebebeb" stroke-width="1"/>
<line x1="408.3" y1="88.44" x2="499.9" y2="88.44" stroke="#ebebeb" stroke-width="1"/>
<clipPath id="c4"><rect x="408.3" y="83" width="93.1" height="46.2"/></clipPath>
<g clip-path="url(#c4)">
<polyline points="408.3,111.8 409.9,110.9 410.6,110.4 411.1,110 411.5,109.1 412.4,105.7 415.6,90.8 416.1,89.1 416.3,88.6 416.6,88.3 416.8,88.3 417,88.6 417.5,90.2 418.9,97.6 420.9,107.5 422.5,114.1 423.5,117.1 423.9,118 424.4,118.7 425.5,120.1 426,120.4 426.4,120.4 427.6,119.4 427.8,119.3 428,119.3 428.3,119.6 429.2,121.3 429.4,121.5 429.9,121.5 430.3,121.2 432.6,118.5 433.1,118.1 433.6,118 434.5,118.2 436.3,119 437.2,119.3 438.4,119.2 441.1,118.8 442,118.9 443,119.3 445,120.6 447.1,122.1 447.8,122.3 448.5,122.3 449.4,122 451.9,120.5 454.9,119.4 456.1,118.8 456.7,118 458.8,114.4 459.3,114 460.9,112.9 461.6,112.5 462.2,112.4 466.4,112.4 466.6,112.3 466.8,111.7 467.3,109.6 468.2,103.7 469.6,96.1 469.8,95.2 470.1,94.7 470.3,94.8 470.7,96.9 471.7,104.4 472.1,106.9 472.8,109.2 473.5,111.1 474,112 474.4,112.4 475.1,112.3 476,111.9 479,109.8 479.9,109.2 481.1,108.8 484.1,107.9 485.2,107.4 486.1,106.8 488.2,105 489.1,104.5 489.6,104.3 490,104.4 490.7,104.6 492.6,105.4 493,105.5 493.5,105.3 494.2,104.8 495.8,103.1 498.5,99.4 499.2,98.8 499.9,98.4" fill="none" stroke="#0000ff" stroke-width="3" stroke-linejoin="round"/>
<polyline points="408.3,113.4 409,112.8 409.4,112.1 410.1,110.5 410.8,108.5 412.9,101 414.5,91.5 415,89.4 415.9,86.6 416.6,84.9 417,84.2 417.5,83.9 417.7,84 417.9,84.2 418.6,85.6 420.5,91.6 423.2,100 425.7,107.1 426.9,109.6 428,111.2 429,112.1 429.9,112.9 431.9,114.1 442.7,118.6 443.9,119.2 446,120.6 447.1,121.3 447.8,121.5 449.9,121.8 452.6,122 454.9,122 456.5,121.7 458.3,120.9 459.3,120.4 460,119.8 461.8,117.2 462.5,116.4 463.4,115.6 465.2,114.4 465.9,113.8 466.6,113 467.3,111.3 468.9,105.8 469.6,102.6 470.1,101.2 470.3,101.2 470.5,101.7 471.7,107.2 471.9,108 472.1,108.4 473.3,109.3 474.4,109.8 475.6,110 476.9,109.7 478.8,109 482.2,107.3 483.6,106.4 487.5,103.4 494.8,99.1 495.5,98.5 496,98 498.3,94.2 499.9,92.6" fill="none" stroke="#008000" stroke-width="3" stroke-linejoin="round" stroke-dasharray="2.8 2.3"/>
<polyline points="408.3,113.9 409.7,113 410.8,112.1 411.7,111.1 412.7,110 413.4,108.3 415,102.6 415.4,101.5 415.6,101.2 415.9,101.1 416.3,101.3 416.8,101.7 418.9,105.1 422.3,109.6 425.3,112.7 426.2,113.5 426.9,113.9 429,114.6 431.5,115.2 434.9,115.8 441.8,116.8 447.1,118.1 449.4,118.3 453.5,118.2 456.1,118 457,117.9 458.3,117.4 461.1,116.3 463.6,115.4 464.8,114.9 465.7,114.3 466.6,113.5 467.1,112.6 468.7,107.7 469.6,104.4 470.1,103.6 470.3,103.6 470.5,104 471.7,108.2 472.1,109.2 473,110.1 474,110.8 474.9,111.2 475.6,111.2 477.2,111 484.7,108.9 485.9,108.4 488.2,107.2 489.3,106.8 495.5,106.4 496,106.2 496.7,105.6 498.8,103.3 499.9,102.6" fill="none" stroke="#ff0000" stroke-width="3" stroke-linejoin="round" stroke-dasharray="6.4 0.6"/>
<polyline points="408.3,114.1 409.4,113.6 410.6,112.8 411.7,111.8 412.7,110.8 413.4,109.4 415,104.7 415.4,103.9 415.6,103.6 415.9,103.5 416.3,103.7 417,104.2 418.9,106.5 422.5,110.2 425.5,113 426.9,113.9 429,114.6 431.7,115.3 434.9,115.8 441.6,116.7 447.3,118.1 448.7,118.3 449.9,118.3 454,118.2 457,117.9 458.3,117.4 461.1,116.3 464.1,115.4 465.2,114.8 466.2,114.2 466.6,113.8 466.8,113.5 467.3,112.4 468.7,107.9 469.6,103.9 469.8,103.2 470.1,102.8 470.3,102.8 470.5,103.2 471.7,108 472.1,109.2 473,110.3 474,111.1 474.6,111.5 475.3,111.6 477.2,111.3 484.7,109.2 485.9,108.7 488.2,107.5 489.1,107.1 489.8,107.1 495.3,107.1 495.8,107 496.7,106.3 498.8,104 499.2,103.6 499.9,103.3" fill="none" stroke="#000000" stroke-width="3" stroke-linejoin="round" stroke-dasharray="3 2.1"/>
</g>
<line x1="449.01" y1="129.2" x2="449.01" y2="127" stroke="#7a7a7a" stroke-width="1"/>
<line x1="449.01" y1="83" x2="449.01" y2="85.2" stroke="#7a7a7a" stroke-width="1"/>
<line x1="499.9" y1="129.2" x2="499.9" y2="127" stroke="#7a7a7a" stroke-width="1"/>
<line x1="499.9" y1="83" x2="499.9" y2="85.2" stroke="#7a7a7a" stroke-width="1"/>
<line x1="408.3" y1="124.67" x2="410.5" y2="124.67" stroke="#7a7a7a" stroke-width="1"/>
<line x1="499.9" y1="124.67" x2="497.7" y2="124.67" stroke="#7a7a7a" stroke-width="1"/>
<line x1="408.3" y1="115.61" x2="410.5" y2="115.61" stroke="#7a7a7a" stroke-width="1"/>
<line x1="499.9" y1="115.61" x2="497.7" y2="115.61" stroke="#7a7a7a" stroke-width="1"/>
<line x1="408.3" y1="106.55" x2="410.5" y2="106.55" stroke="#7a7a7a" stroke-width="1"/>
<line x1="499.9" y1="106.55" x2="497.7" y2="106.55" stroke="#7a7a7a" stroke-width="1"/>
<line x1="408.3" y1="97.49" x2="410.5" y2="97.49" stroke="#7a7a7a" stroke-width="1"/>
<line x1="499.9" y1="97.49" x2="497.7" y2="97.49" stroke="#7a7a7a" stroke-width="1"/>
<line x1="408.3" y1="88.44" x2="410.5" y2="88.44" stroke="#7a7a7a" stroke-width="1"/>
<line x1="499.9" y1="88.44" x2="497.7" y2="88.44" stroke="#7a7a7a" stroke-width="1"/>
<rect x="408.3" y="83" width="91.6" height="46.2" fill="none" stroke="#7a7a7a" stroke-width="1"/>
<text x="404" y="128.31" font-size="10.7" text-anchor="end" font-weight="bold">-2</text>
<text x="404" y="119.25" font-size="10.7" text-anchor="end" font-weight="bold">0</text>
<text x="404" y="110.19" font-size="10.7" text-anchor="end" font-weight="bold">2</text>
<text x="404" y="101.13" font-size="10.7" text-anchor="end" font-weight="bold">4</text>
<text x="404" y="92.07" font-size="10.7" text-anchor="end" font-weight="bold">6</text>
<text x="449.01" y="143.6" font-size="10.7" text-anchor="middle" font-weight="bold">400</text>
<text x="499.9" y="143.6" font-size="10.7" text-anchor="middle" font-weight="bold">450</text>
<text x="408.6" y="82.7" font-size="16.5" font-weight="normal">&#215;</text>
<text x="418.2" y="80.9" font-size="10.8" font-weight="normal" stroke="#000" stroke-width="0.2">10</text>
<text x="428.6" y="75.6" font-size="9" font-weight="bold">-5</text>
<rect x="212.5" y="289.8" width="317.7" height="213.7" fill="#fff"/>
<line x1="212.5" y1="289.8" x2="212.5" y2="503.5" stroke="#ebebeb" stroke-width="0.9"/>
<line x1="256.62" y1="289.8" x2="256.62" y2="503.5" stroke="#ebebeb" stroke-width="0.9"/>
<line x1="300.75" y1="289.8" x2="300.75" y2="503.5" stroke="#ebebeb" stroke-width="0.9"/>
<line x1="344.88" y1="289.8" x2="344.88" y2="503.5" stroke="#ebebeb" stroke-width="0.9"/>
<line x1="389" y1="289.8" x2="389" y2="503.5" stroke="#ebebeb" stroke-width="0.9"/>
<line x1="433.13" y1="289.8" x2="433.13" y2="503.5" stroke="#ebebeb" stroke-width="0.9"/>
<line x1="477.25" y1="289.8" x2="477.25" y2="503.5" stroke="#ebebeb" stroke-width="0.9"/>
<line x1="521.38" y1="289.8" x2="521.38" y2="503.5" stroke="#ebebeb" stroke-width="0.9"/>
<line x1="212.5" y1="503.5" x2="530.2" y2="503.5" stroke="#ebebeb" stroke-width="1"/>
<line x1="212.5" y1="467.88" x2="530.2" y2="467.88" stroke="#ebebeb" stroke-width="1"/>
<line x1="212.5" y1="432.27" x2="530.2" y2="432.27" stroke="#ebebeb" stroke-width="1"/>
<line x1="212.5" y1="396.65" x2="530.2" y2="396.65" stroke="#ebebeb" stroke-width="1"/>
<line x1="212.5" y1="361.03" x2="530.2" y2="361.03" stroke="#ebebeb" stroke-width="1"/>
<line x1="212.5" y1="325.42" x2="530.2" y2="325.42" stroke="#ebebeb" stroke-width="1"/>
<line x1="212.5" y1="289.8" x2="530.2" y2="289.8" stroke="#ebebeb" stroke-width="1"/>
<line x1="212.5" y1="503.5" x2="212.5" y2="500.5" stroke="#585858" stroke-width="1"/>
<line x1="212.5" y1="289.8" x2="212.5" y2="292.8" stroke="#585858" stroke-width="1"/>
<line x1="256.62" y1="503.5" x2="256.62" y2="500.5" stroke="#585858" stroke-width="1"/>
<line x1="256.62" y1="289.8" x2="256.62" y2="292.8" stroke="#585858" stroke-width="1"/>
<line x1="300.75" y1="503.5" x2="300.75" y2="500.5" stroke="#585858" stroke-width="1"/>
<line x1="300.75" y1="289.8" x2="300.75" y2="292.8" stroke="#585858" stroke-width="1"/>
<line x1="344.88" y1="503.5" x2="344.88" y2="500.5" stroke="#585858" stroke-width="1"/>
<line x1="344.88" y1="289.8" x2="344.88" y2="292.8" stroke="#585858" stroke-width="1"/>
<line x1="389" y1="503.5" x2="389" y2="500.5" stroke="#585858" stroke-width="1"/>
<line x1="389" y1="289.8" x2="389" y2="292.8" stroke="#585858" stroke-width="1"/>
<line x1="433.13" y1="503.5" x2="433.13" y2="500.5" stroke="#585858" stroke-width="1"/>
<line x1="433.13" y1="289.8" x2="433.13" y2="292.8" stroke="#585858" stroke-width="1"/>
<line x1="477.25" y1="503.5" x2="477.25" y2="500.5" stroke="#585858" stroke-width="1"/>
<line x1="477.25" y1="289.8" x2="477.25" y2="292.8" stroke="#585858" stroke-width="1"/>
<line x1="521.38" y1="503.5" x2="521.38" y2="500.5" stroke="#585858" stroke-width="1"/>
<line x1="521.38" y1="289.8" x2="521.38" y2="292.8" stroke="#585858" stroke-width="1"/>
<line x1="212.5" y1="503.5" x2="215.5" y2="503.5" stroke="#585858" stroke-width="1"/>
<line x1="530.2" y1="503.5" x2="527.2" y2="503.5" stroke="#585858" stroke-width="1"/>
<line x1="212.5" y1="467.88" x2="215.5" y2="467.88" stroke="#585858" stroke-width="1"/>
<line x1="530.2" y1="467.88" x2="527.2" y2="467.88" stroke="#585858" stroke-width="1"/>
<line x1="212.5" y1="432.27" x2="215.5" y2="432.27" stroke="#585858" stroke-width="1"/>
<line x1="530.2" y1="432.27" x2="527.2" y2="432.27" stroke="#585858" stroke-width="1"/>
<line x1="212.5" y1="396.65" x2="215.5" y2="396.65" stroke="#585858" stroke-width="1"/>
<line x1="530.2" y1="396.65" x2="527.2" y2="396.65" stroke="#585858" stroke-width="1"/>
<line x1="212.5" y1="361.03" x2="215.5" y2="361.03" stroke="#585858" stroke-width="1"/>
<line x1="530.2" y1="361.03" x2="527.2" y2="361.03" stroke="#585858" stroke-width="1"/>
<line x1="212.5" y1="325.42" x2="215.5" y2="325.42" stroke="#585858" stroke-width="1"/>
<line x1="530.2" y1="325.42" x2="527.2" y2="325.42" stroke="#585858" stroke-width="1"/>
<line x1="212.5" y1="289.8" x2="215.5" y2="289.8" stroke="#585858" stroke-width="1"/>
<line x1="530.2" y1="289.8" x2="527.2" y2="289.8" stroke="#585858" stroke-width="1"/>
<rect x="212.5" y="289.8" width="317.7" height="213.7" fill="none" stroke="#585858" stroke-width="1"/>
<clipPath id="c5"><rect x="210.5" y="289.8" width="321.7" height="213.7"/></clipPath>
<g clip-path="url(#c5)">
<polyline points="212.5,440.1 212.9,400.6 213.1,396.6 213.2,396.6 214.3,394.2 215.4,396.6 245.5,396.6 245.9,323.6 246.4,396.6 246.5,396.6 246.7,397.7 247.1,400.6 247.8,396.5 248.5,396.5 249.8,408.6 251.1,398.2 251.8,398.5 252.1,398.5 252.5,398.2 253.3,397.3 254.5,395.3 255,394.8 255.3,394.6 255.5,394.6 255.7,394.3 256.1,394.1 256.8,394.1 257.2,394 257.5,393.6 257.9,392.8 258.8,393.4 259.3,393.9 259.7,394.9 260.4,396.8 260.6,397.1 261.1,397.4 261.5,397.3 262.3,396.8 262.6,396.8 262.8,396.9 263,397.1 263.9,398.9 264.2,399.3 264.5,399.5 264.7,399.5 265,399.3 265.7,397.5 266.1,396.8 266.3,396.6 266.7,396.6 267,396.7 267.5,397.3 267.9,397.3 268.3,396.8 269.2,395.1 269.4,394.8 269.6,394.8 269.9,394.8 270.1,395.1 271.3,397 271.6,397.2 272.1,397.1 272.8,397.3 273.3,397.7 273.8,398.5 274.7,398.2 275.6,397.2 276.2,397.1 276.7,397.1 278.2,390 279.8,396.6 280.5,396.6 281,397.1 281.8,397.6 282.9,395.9 283.1,395.2 284.4,392.6 285.2,394.6 286,397.2 286.5,398.1 287,398.5 287.3,398.5 287.6,398.3 288.6,396.5 289.1,396.2 289.3,396.3 289.6,396.5 290.4,397.8 291.3,397.9 292.1,397.7 292.7,397.8 293.5,371.7 294.2,395.8 294.6,395.1 295.1,398.5 295.7,402.8 296.8,397 297.2,397.7 297.6,397.8 297.9,397.7 298.5,396.9 299.2,398.4 300.1,401.3 300.8,399.4 301.6,396.2 302,396.1 302.2,396.2 302.7,396.8 303.4,396.7 303.7,396.3 303.9,395.9 304.5,394.2 305.3,393.8 305.6,393.9 305.8,394.2 307.3,397.3 307.6,397.8 307.8,397.9 308.4,397.1 309.7,394 309.8,393.8 310,393.9 310.7,394.5 311.8,395.9 312.7,396.6 313.8,398.9 314.4,399.8 315.1,398.9 316.2,396.8 316.4,396.5 317.4,395.7 317.8,395.6 318.2,395.7 319.5,401.5 320.1,399.7 320.8,396.6 321.5,396.4 321.8,396.4 322.2,396.7 323.1,388.5 324.1,396.6 324.8,395.8 325.1,395.7 325.5,395.9 325.7,396.1 326.6,398.1 326.9,398.5 327.2,398.8 328.1,396.8 328.4,396.4 328.7,396.3 328.8,396.2 328.9,396.4 329.7,397.6 329.9,397.7 330.2,397.5 330.5,397.1 331.4,395.2 331.7,395.2 332.1,395.5 333.2,397.2 333.5,397.1 333.7,396.9 334.7,395.2 335.1,394.8 335.4,394.7 335.8,395.2 337.2,410.3 338.5,396.9 339.1,396.5 339.8,396.4 341.1,394.6 341.8,395.6 342.4,397.1 343.2,398.1 343.6,398.3 343.8,398.3 344.1,398.1 344.4,397.7 344.9,473.2 345.3,396.4 345.8,395.9 346.3,395.6 346.9,395.6 347.4,395.8 348.6,383.7 349.8,397.2 350.2,396.9 351.3,395.5 351.7,395.3 352,395.3 352.5,395.7 353.3,396.7 354,398.6 355,400.6 355.9,399.2 356.8,397.1 357.2,396.7 357.7,396.5 358.1,396.6 359,397.2 359.4,397.2 359.9,396.5 360.9,394.2 361.2,393.8 361.4,393.6 361.6,393.6 361.8,393.8 363.1,396.2 363.6,396.6 364.3,396.7 364.6,396.9 365.2,397.6 365.7,398.6 366.1,399 366.4,399 366.8,398.5 367.7,396.1 367.9,395.8 368.2,395.6 368.4,395.6 368.7,396 369.7,398.1 370,398.3 370.4,398.2 371.6,396.1 372.5,384.2 373.3,396.4 373.7,396.4 374,396.2 375.1,391.3 376.2,396.2 377.1,396.8 378.2,414.1 379.3,397.3 379.7,397.4 381.1,407.7 382.4,396.8 383.2,396.2 383.7,396 384.1,396.2 385.1,396.9 385.7,397.1 386.1,397.1 387.1,396.6 387.5,396.7 387.9,396.6 388.7,397 389,397.1 389.7,396.7 390.5,396 390.9,395.9 391.3,396.2 391.9,396.9 392.8,426.9 393.6,397.5 394.2,397.3 395.4,390 395.9,393.3 396.6,396.3 397.3,395 397.5,394.7 397.7,394.7 397.9,394.7 398.2,394.9 399.1,396.6 399.3,396.5 399.8,395.7 400.9,392.9 402.8,397.4 404.2,400 404.7,399.1 405.8,397.3 406,397.4 406.3,397.3 407.3,396.4 407.8,396.2 408.2,396.4 409.1,397.3 409.8,399 410.3,399.5 411.1,400.2 411.8,398.3 413,395.7 413.5,395.7 413.9,395.8 415.4,397.2 415.9,397.5 416.4,397.4 417.5,396.6 418.1,396.4 419.4,389.4 420.8,397.7 421.3,398 421.7,397.9 421.9,397.7 423.2,403.6 423.9,399.2 424.5,395.8 425.1,396.5 425.5,396.8 425.8,396.8 426.7,396.6 427.3,396.8 427.8,397.4 428.6,399.5 428.9,399.9 429.3,400 429.6,400.1 430.1,398 430.6,396.9 430.9,396.5 431.4,396.3 431.9,397.1 432.1,397.2 432.4,397.2 432.7,397 433.6,395.8 433.8,395.7 434,395.8 434.4,396.3 435.2,397.9 435.6,398.4 436.7,387.2 437.8,396.3 438.1,396.2 439.1,396 440.2,395.3 440.6,395.8 441,396.4 442,398.9 442.4,398.8 442.8,398.6 443.7,397.3 445.7,396.9 447.6,396.9 448.2,396.4 449.2,395.4 449.7,395.1 450.1,395.5 451.1,397 451.7,397.3 452,397.2 453.2,395.8 453.8,395.7 454.7,396 455.2,396.1 456.5,401.2 457.8,397.7 458.3,398 458.6,398 459.6,397.1 460,396.9 460.5,397 461.4,397.7 461.8,397.7 462.2,397.2 463.4,394.6 463.8,394 464.2,393.8 464.9,394.9 465.3,395.4 466.2,396 466.5,395.9 466.9,396.1 468,397 468.3,397 468.5,396.9 469.4,396 469.7,395.8 470.1,395.8 470.4,396.2 471.5,414.2 472.6,398.2 473.4,397 473.8,396.5 474.3,396.3 475.3,396.3 476.6,387.4 477.9,396.6 478.4,396.8 478.7,396.8 479.9,396 481,388.2 482.1,396.8 482.9,397.2 483.4,397.3 484,397.2 485.1,396.4 485.4,396.4 485.7,396.5 487.2,398.4 487.6,399.7 488,400.4 488.3,400.7 488.9,401.1 489.7,397.8 490.2,396.7 490.7,395.6 491.4,396.1 492.4,396.2 492.7,396.3 493.9,397.7 494.1,397.8 494.3,397.8 494.6,397.6 494.9,397.1 496,393.4 496.2,393 496.6,392.7 496.9,392.9 497.7,396.2 498.1,397.6 498.4,398.2 498.8,398.4 498.9,398.4 499.6,397 500.1,396.5 500.5,396.3 501.5,396.4 502.7,395.6 503.1,395.5 503.5,395.6 503.9,395.9 504.8,397.5 505.7,398.4 506.4,397.5 506.9,397.1 507.5,397.1 508.1,397.7 508.7,397.8 509.1,397.7 510.5,396.8 511.4,396.3 512.1,396.2 512.8,396.4 513.4,396.8 514.8,402.5 516.1,396.5 517,396.8 517.3,396.8 517.6,396.6 518.6,394.2 519.2,393.3 519.6,394.1 520.7,396.8 521.2,397 522.3,397.4 523.5,398.3 523.8,398.2 524.2,397.8 525.2,397.4 525.6,397.4 525.8,397.6 526.1,397.1 526.4,396.9 527.3,396.8 527.6,396.9 527.9,397 529.2,396.3 529.6,396.4 530.2,396.7" fill="none" stroke="#0000ff" stroke-width="3" stroke-linejoin="round"/>
<polyline points="212.5,434 212.9,400 213.1,396.6 245.5,396.6 245.9,329" fill="none" stroke="#008000" stroke-width="3" stroke-linejoin="round" stroke-dasharray="2.8 2.3" stroke-dashoffset="0"/>
<polyline points="245.9,329 246.4,396.6 246.6,396.6 246.7,396.4 247.9,396.5 248.5,396.5 249.8,409.5 251.1,397.7 251.6,398.2 251.9,398.4 252.2,398.4 252.7,398.2 253.2,397.6 254.7,395.2 255.1,395 255.5,395 256,394.7 257,394.3 257.4,393.8 257.9,392.6 258.7,393.2 259.2,393.8 260.4,397.1 260.7,397.3 261,397.3 261.4,397.1 262.1,396.4 262.5,396.3 262.7,396.3 263,396.7 264,399.2 264.3,399.7 264.6,399.8 265,399.6 265.8,397.4 266.2,396.7 266.6,396.5 266.9,396.5 267.5,397.2 267.8,397.3 268,397.2 268.4,396.8 269.3,395.3 269.8,395 270.2,395.2 271.1,396.5 271.4,396.8 271.7,396.9 272.1,396.8 272.7,397.1 273.3,397.6 273.8,398.5 274.3,398.4 274.9,398.1 275.6,397.4 276.7,397.3 278.2,387.3 279.8,396.4 280.5,396.6 281.3,397.5 281.8,397.8 282.9,395.9 283.1,395.2 284.4,392.6 285.2,394.5 286,397 286.5,397.8 287,398.3 287.3,398.3 287.6,398.1 288.6,396.7 288.8,396.6 289.2,396.6 289.5,396.9 290.4,398.1 291.2,398 292.1,397.4 292.7,397.5 293.5,369.3" fill="none" stroke="#008000" stroke-width="3" stroke-linejoin="round" stroke-dasharray="2.8 2.3" stroke-dashoffset="3.09"/>
<polyline points="293.5,369.3 294.2,395.9 294.6,395.2 295.1,396.5 295.7,398.7 296.1,397.7 296.8,396.6 297.2,397.4 297.6,397.6 298,397.6 298.5,397.3 300.1,403.6 301.6,396.2 302,396.1 302.2,396.2 302.7,396.8 303.4,396.7 303.7,396.3 303.9,395.9 304.5,394.2 305.3,393.9 305.5,393.9 305.7,394.1 306.3,395.3 307.1,396.9 307.5,397.4 307.8,397.6 308.3,397 309.2,394.9 309.8,394 310.3,394.5 311.8,396 312.2,396.2 312.7,396.6 313.8,398.9 314.4,399.8 315,399.1 316.2,396.6 316.4,396.4 316.9,396 317.3,395.8 317.7,395.8 318.2,396 319.5,403.2 320.8,396.2 321.2,396.1 321.5,396.1 322.2,396.6 323.1,391.3 324.1,396.6 324.8,396 325,395.9 325.3,396 325.7,396.3 326.6,398.2 326.9,398.6 327.2,398.8 328,397 328.3,396.5 328.5,396.4 328.8,396.3 329.7,397.9 330,398 330.2,397.8 330.6,397.1 331.4,395 331.5,394.9 331.9,394.9 332.2,395.1 333.2,396.7 333.5,396.8 334,396.6 334.8,395.3 335.2,395 335.5,394.9 335.8,395.1 337.2,412.6" fill="none" stroke="#008000" stroke-width="3" stroke-linejoin="round" stroke-dasharray="2.8 2.3" stroke-dashoffset="4.67"/>
<polyline points="337.2,412.6 338.5,397.3 339.8,396.8 341.1,394.8 341.8,395.7 342.4,397 343.1,397.7 343.4,397.8 343.8,397.7 344.4,397.1 344.9,464.9 345.3,396.1 345.6,395.9 346.1,395.8 347.4,396.1 348.6,385.8 349.8,397.2 350.3,396.8 351.3,395.5 351.7,395.3 352,395.4 352.5,395.8 353.3,396.8 354,398.7 355,400.5 355.9,399.1 356.8,397 357.3,396.5 357.8,396.4 358.1,396.5 359,397 359.4,396.9 359.9,396.3 360.9,394.3 361.2,393.9 361.4,393.8 361.6,393.8 361.8,394 363.1,396.2 363.6,396.6 364.3,396.9 364.6,397.1 365.2,397.8 365.6,398.6 365.9,398.9 366.3,398.9 366.7,398.5 366.9,398.1 367.6,396.2 367.9,395.7 368.2,395.6 368.4,395.7 368.6,395.9 369.5,397.9 369.8,398.3 370,398.4 370.5,398 371.6,396 372.5,381.6" fill="none" stroke="#008000" stroke-width="3" stroke-linejoin="round" stroke-dasharray="2.8 2.3" stroke-dashoffset="3.95"/>
<polyline points="372.5,381.6 373.3,396.3 373.7,396.3 374,396.1 375.1,386.9 376.2,396.4 376.6,396.9 377.1,397.2 378.2,413.5" fill="none" stroke="#008000" stroke-width="3" stroke-linejoin="round" stroke-dasharray="2.8 2.3" stroke-dashoffset="1.77"/>
<polyline points="378.2,413.5 379.3,397 379.7,397.1 381.1,406.3 382.4,397 383.3,396.3 383.7,396.1 384.1,396.2 385.1,396.8 385.7,396.9 386,396.9 386.8,396.4 387.1,396.3 387.9,396.4 388.7,396.9 389,397.1 389.7,396.8 390.5,396.2 390.9,396.1 391.2,396.3 391.9,397.2 392.8,422.9" fill="none" stroke="#008000" stroke-width="3" stroke-linejoin="round" stroke-dasharray="2.8 2.3" stroke-dashoffset="0.16"/>
<polyline points="392.8,422.9 393.6,397.6 394.2,397.3 395.4,392.6 395.9,394.6 396.6,396.2 397.3,394.9 397.6,394.6 397.8,394.6 398.3,395 399.1,396.5 399.6,395.7 399.9,394.8 400.9,391.4 402.7,396.8 404.2,400 405.8,397.6 406,397.6 406.3,397.4 407.3,396.5 407.8,396.3 408.2,396.4 409.1,397.2 409.8,398.7 411.1,400 413,395.8 413.7,395.7 414.2,395.8 415.5,397.1 416,397.4 416.5,397.3 417.6,396.6 418.1,396.4 419.4,389.6 420.8,398 421.3,398.2 421.7,398.1 421.9,397.9 423.2,401.1 423.9,397.8 424.5,395.5 425.1,396.1 425.4,396.4 425.8,396.4 426.7,396.3 427.3,396.5 427.8,397.2 428.3,398.5 428.7,399.4 429,399.8 429.6,400.2 430.1,398.5 430.7,397.4 431.4,397 431.8,397.5 432,397.6 432.2,397.5 432.6,397.2 433.3,395.9 433.7,395.6 433.9,395.6 434.2,395.9 435.2,398 435.6,398.4 436.7,381.2" fill="none" stroke="#008000" stroke-width="3" stroke-linejoin="round" stroke-dasharray="2.8 2.3" stroke-dashoffset="1.56"/>
<polyline points="436.7,381.2 437.8,395.7 438.2,395.5 439.3,395.8 440.2,395.5 440.3,395.6 440.7,395.9 441.1,396.4 442,398.2 442.6,398.4 443.2,398.2 443.7,397.6 444.7,397.1 445.3,396.9 445.9,396.9 447,397.2 447.5,397.2 448.1,396.6 449.2,395 449.7,394.6 450.1,395.1 451.2,397 451.7,397.3 451.9,397.3 452.1,397.1 453.2,395.6 453.5,395.5 453.9,395.5 454.9,396.3 455.2,396.5 456.5,404 457.8,397.7 458.3,397.9 458.6,397.9 459.7,397 460,396.8 460.5,396.9 461.4,397.3 461.8,397.2 462.2,396.8 463.2,394.6 463.8,394 464.2,393.9 465,395.2 465.7,395.8 466.2,396.2 466.9,396.3 467.9,396.9 468.4,396.9 469.4,396 469.9,395.9 470.1,396.1 470.4,396.5 471.5,410.3" fill="none" stroke="#008000" stroke-width="3" stroke-linejoin="round" stroke-dasharray="2.8 2.3" stroke-dashoffset="2.46"/>
<polyline points="471.5,410.3 472.6,398.1 473.4,396.7 473.8,396.2 474.3,396.1 475.3,396.2 476.6,390.5 477.9,396.5 478.4,396.7 478.8,396.7 479.9,396 481,382.8 482.1,397 482.9,397.6 483.4,397.7 484,397.5 485.1,396.6 485.4,396.5 485.6,396.6 486,396.8 486.8,397.9 487.2,398.2 487.6,399 488,399.2 488.2,399.2 488.9,398.8 489.4,397.2 489.7,396.4 490.2,395.8 490.7,395.4 491.4,396.1 492.4,396.2 492.7,396.4 494,398.1 494.3,398.2 494.6,398.1 494.9,397.7 496.1,392.3 496.4,391.4 496.9,390.9 498,396 498.4,397.3 498.9,398 499.5,397 500,396.5 500.3,396.4 501.2,396.4 501.5,396.3 502.6,395.3 503.1,395.1 503.5,395.2 503.9,395.6 504.8,397.5 505.7,398.7 506.5,397.8 507,397.4 507.5,397.3 508.2,397.9 508.9,397.9 509.6,397.6 511.4,396.1 511.9,396 512.2,396 512.7,396.1 513.4,396.7 514.1,398.7 514.8,400.2 516.1,396.2 517.1,396.7 517.6,396.6 518.7,394.1 519.2,393.3 519.7,394.4 520.7,397 521.4,397.6 523.1,398.3 523.7,398.3 524.2,397.7 525.1,397.3 525.5,397.3 525.8,397.5 526.3,396.7 527.3,396 527.8,396.1 528.7,395.9 529,396 529.4,396.2 530.2,397" fill="none" stroke="#008000" stroke-width="3" stroke-linejoin="round" stroke-dasharray="2.8 2.3" stroke-dashoffset="4.32"/>
<polyline points="212.5,431.2 212.9,399.8 213.1,396.6 245.5,396.6 245.9,337.9" fill="none" stroke="#ff0000" stroke-width="3" stroke-linejoin="round" stroke-dasharray="6.4 0.6" stroke-dashoffset="0"/>
<polyline points="245.9,337.9 246.4,396.6 246.6,396.6 246.7,396.5 247.8,397 248.5,397 249.8,406.2 251.1,397.3 252.2,397.4 253.1,397.2 253.6,396.7 255,395.2 255.3,395.1 255.5,395.1 256,394.9 256.7,395 257.1,394.8 257.5,394.4 257.9,393.6 258.6,394 259.1,394.4 259.5,395.2 260.4,397.3 260.7,397.4 261,397.4 262.1,396.7 262.7,396.6 263,396.8 263.9,398.2 264.5,398.7 265,398.7 265.8,397.2 266.4,396.5 267,396.3 267.5,396.6 268,396.6 269.1,395.7 269.5,395.5 270.1,395.7 271.3,396.9 271.6,397 272.1,397 273,397.4 273.8,398.3 274.7,397.9 275.6,397.1 276.7,397 278.2,390.1 279.8,396.2 280.5,396.4 281.1,397.2 281.8,397.6 282.9,396.1 283.1,395.5 283.4,394.9 284.4,393.7 286,397.1 287,398 287.3,398.1 287.6,398 288.6,396.9 289.1,396.7 289.6,396.8 290.4,397.6 291.2,397.4 292.1,397 292.7,397.1 293.5,374.9" fill="none" stroke="#ff0000" stroke-width="3" stroke-linejoin="round" stroke-dasharray="6.4 0.6" stroke-dashoffset="6.69"/>
<polyline points="293.5,374.9 294.2,396.1 294.6,395.6 295.1,397 295.7,399 296.1,397.8 296.8,396.6 297.2,397.3 297.6,397.6 298,397.7 298.5,397.5 299.2,398.9 300.1,401.2 300.8,399.3 301.6,396.3 302.1,396.1 302.4,396.2 302.7,396.5 303.4,396.4 303.9,395.8 304.5,394.6 305.1,394.5 305.4,394.6 305.6,394.7 305.9,395.2 306.3,395.8 306.9,396.6 307.4,397 307.7,397.1 308,396.9 309.1,395.3 309.8,394.7 312.7,396.8 313.7,398.5 314.4,399.2 315.1,398.5 316.2,396.7 316.9,396 317.4,395.6 318,395.5 318.2,395.6 319.5,400.7 320.8,396.3 321.2,396.2 321.5,396.2 322.2,396.7 323.1,391.7 324.1,396.6 324.8,396.1 325,396 325.3,396.1 325.7,396.4 326.6,398 326.9,398.4 327.2,398.6 328,397.2 328.5,396.6 328.8,396.4 329.7,397.3 330.1,397.2 330.6,396.7 331.4,395.4 331.9,395.4 332.2,395.6 333.2,396.5 333.3,396.5 333.8,396.4 335.1,395.4 335.4,395.4 335.8,395.6 337.2,407.2" fill="none" stroke="#ff0000" stroke-width="3" stroke-linejoin="round" stroke-dasharray="6.4 0.6" stroke-dashoffset="0.06"/>
<polyline points="337.2,407.2 338.5,397.2 339.1,397 339.8,396.9 341.1,395.4 341.7,395.8 342.4,396.9 343.3,397.6 343.7,397.7 343.9,397.7 344.4,397.2 344.9,453.5" fill="none" stroke="#ff0000" stroke-width="3" stroke-linejoin="round" stroke-dasharray="6.4 0.6" stroke-dashoffset="5.33"/>
<polyline points="344.9,453.5 345.3,395.9 345.8,395.5 346.2,395.3 346.6,395.5 347.4,396 348.6,387.9 349.8,397.2 350.3,397 351.5,396.2 351.8,396.1 352.3,396.2 353.3,396.9 354,398.2 355,399.5 355.9,398.3 356.8,396.7 357.1,396.4 357.6,396.1 357.9,396.1 358.2,396.2 359,396.8 359.4,396.9 360,396.4 361,394.7 361.3,394.4 361.6,394.3 363.2,396.6 363.8,397.1 364.6,397.3 365.2,397.8 365.7,398.4 366.2,398.6 366.5,398.4 366.8,398 367.6,396.4 368,395.8 368.3,395.8 368.6,396 369.5,397.3 369.9,397.5 370.4,397.4 371.2,396.4 371.6,396.1 372.5,385.5" fill="none" stroke="#ff0000" stroke-width="3" stroke-linejoin="round" stroke-dasharray="6.4 0.6" stroke-dashoffset="3.88"/>
<polyline points="372.5,385.5 373.3,396.3 374,396 375.1,391.5 376.2,396.7 376.6,397 377.1,397.1 378.2,410" fill="none" stroke="#ff0000" stroke-width="3" stroke-linejoin="round" stroke-dasharray="6.4 0.6" stroke-dashoffset="1.37"/>
<polyline points="378.2,410 379.3,397.3 379.7,397.3 381.1,404.3 382.4,396.5 382.8,396.2 383.4,395.9 383.8,395.9 385.2,396.7 385.9,396.8 387,396.5 388.9,397.2 389.2,397.1 390.5,396.4 390.9,396.3 391.3,396.6 391.9,397.1 392.8,419.1" fill="none" stroke="#ff0000" stroke-width="3" stroke-linejoin="round" stroke-dasharray="6.4 0.6" stroke-dashoffset="4.53"/>
<polyline points="392.8,419.1 393.6,397.6 394.2,397.3 395.4,392.2 396.6,395.9 397.3,395.1 397.6,394.9 397.8,394.8 398.4,395.2 399.1,396.2 399.6,395.9 399.9,395.6 400.9,393.9 402.7,397.1 404.2,399.3 404.7,398.6 405.8,397.3 406.1,397.3 406.4,397.2 407.5,396.3 408,396.1 408.4,396.2 409.1,396.7 410,398.3 411.1,399.2 411.8,397.8 413,396 414,396.2 415.5,397.3 416,397.5 416.5,397.4 417.6,396.8 418.1,396.6 419.4,391.6 420.8,397.1 421.4,397.4 421.9,397.4 423.2,400.6 423.9,397.8 424.5,395.8 425.1,396.5 425.5,396.8 426,396.8 426.8,396.5 427.4,396.7 427.8,397.1 428.3,398.2 428.7,398.9 429,399.2 429.6,399.4 430.1,397.9 430.7,397.1 431.4,396.8 431.8,397.2 432.2,397.3 432.6,397.1 433.3,396.1 433.7,395.8 433.9,395.8 434.2,396 435.2,397.5 435.6,397.8 436.7,387.2" fill="none" stroke="#ff0000" stroke-width="3" stroke-linejoin="round" stroke-dasharray="6.4 0.6" stroke-dashoffset="4.11"/>
<polyline points="436.7,387.2 437.8,396.1 439.1,396.1 440.2,395.7 440.8,396.2 442,397.8 442.1,397.8 442.7,397.9 443.7,397.4 445.6,397 447.5,396.8 449,395.3 449.3,395.1 449.7,395 451,396.8 451.5,397.2 451.9,397.2 453,396.3 453.4,396.1 455.2,396.4 456.5,401.1 457.8,397.4 458.2,397.5 458.5,397.5 459.9,396.9 461.1,397.1 461.7,397 462.2,396.6 463.2,395 463.8,394.6 464.2,394.5 465.2,395.8 466.2,396.5 466.9,396.5 467.8,396.8 468.2,396.9 468.6,396.7 469.5,396.1 469.9,396 470.1,396.1 470.4,396.4 471.5,407.6" fill="none" stroke="#ff0000" stroke-width="3" stroke-linejoin="round" stroke-dasharray="6.4 0.6" stroke-dashoffset="3.46"/>
<polyline points="471.5,407.6 472.6,398 473.5,396.8 473.9,396.3 474.4,396.1 475.3,396.1 476.6,390.6 477.9,396.5 478.4,396.6 478.7,396.7 479.9,396.2 481,388 482.1,397.1 482.8,397.3 483.9,397.2 484.4,397.1 485.4,396.6 486,396.6 486.4,396.8 487.2,397.4 487.6,398.3 488.1,398.8 488.9,399.1 489.7,397.1 490.2,396.4 490.7,395.9 491.4,396.2 492.4,396.2 492.7,396.3 493.1,396.6 494,397.6 494.3,397.7 494.7,397.6 494.9,397.4 495.7,395.1 496.1,394.1 496.4,393.6 496.9,393.5 497.9,396.5 498.2,397.1 498.7,397.5 498.9,397.5 499.5,396.5 500,396.2 500.3,396.1 501.1,396.2 501.5,396.2 502.6,395.7 503.1,395.6 503.5,395.7 503.9,396.1 504.8,397.5 505.7,398.5 506.6,397.7 507.5,397.1 508.5,397.3 509.6,397.2 510.2,397 511.4,396.3 512.1,396.2 513.4,396.7 514.8,399.6 515.4,397.9 516.1,396.5 517,397 517.3,397 517.6,396.9 518.6,395.1 519.2,394.3 519.7,395 520.7,396.6 521.8,397.1 523.3,398 523.7,398 524.2,397.5 525.1,397.2 525.5,397.2 525.8,397.3 526.3,396.8 527.3,396.3 527.9,396.5 529.1,396.3 529.5,396.5 530.2,396.9" fill="none" stroke="#ff0000" stroke-width="3" stroke-linejoin="round" stroke-dasharray="6.4 0.6" stroke-dashoffset="0.91"/>
<polyline points="212.5,425.1 212.9,399.2 213.1,396.6 245.5,396.6 245.9,350.3" fill="none" stroke="#000000" stroke-width="3" stroke-linejoin="round" stroke-dasharray="3 2.1" stroke-dashoffset="0"/>
<polyline points="245.9,350.3 246.4,396.6 246.6,396.6 246.7,395.9 248.5,396.5 249.8,404.9 251.1,397.7 251.9,398.2 252.2,398.2 252.5,398.1 253.2,397.5 254.9,395.4 255.2,395.2 255.5,395.2 256,395 257.1,394.9 257.5,394.5 257.9,393.9 258.7,394.2 259.2,394.5 259.6,395.1 260.4,396.6 261,396.9 262.1,396.7 262.7,396.8 263,397.1 263.9,398.6 264.5,399 265,398.8 265.7,397.5 266.2,396.9 266.8,396.7 267,396.8 267.5,397.1 267.9,397 268.3,396.6 269.2,395.4 269.6,395.1 270.1,395.3 271,396.3 271.4,396.7 271.7,396.8 272.1,396.7 272.8,396.9 273.3,397.2 273.8,397.9 274.6,397.8 275,397.7 275.6,397.4 276.7,397.4 278.2,391.2 279.8,396.3 280.5,396.2 281.8,397.1 282.9,396 283.1,395.5 284.4,393.7 285.2,395.2 286,397.3 286.5,398 287,398.4 287.3,398.4 287.6,398.2 288.6,396.8 289.1,396.5 289.6,396.6 290.4,397.4 291,397.3 292.1,396.9 292.7,397.1 293.5,377.4" fill="none" stroke="#000000" stroke-width="3" stroke-linejoin="round" stroke-dasharray="3 2.1" stroke-dashoffset="2.89"/>
<polyline points="293.5,377.4 294.2,396.3 294.6,395.8 295.1,397 295.7,398.8 296.1,397.9 296.8,396.8 297.2,397.3 297.6,397.4 298,397.4 298.5,397 299.2,398.2 300.1,400.3 301.6,396.5 302.2,396.5 302.7,396.9 303.3,396.8 303.8,396.3 304.5,395 305.3,394.9 305.7,395.1 306.3,396 307.1,396.9 307.5,397.1 307.8,397.2 309.2,395.3 309.8,394.8 311.8,396 312.2,396.2 312.7,396.4 313.9,398.4 314.4,399.1 315.1,398.5 316.2,396.8 316.5,396.5 317,396.2 317.4,396 318.2,396.1 319.5,400.3 320.8,396.4 321.5,396.3 322.2,396.5 323.1,391.9 324.1,396.4 324.8,396.1 325.3,396.2 325.7,396.5 326.6,397.8 327.1,398.1 327.2,398.2 328.1,396.8 328.5,396.6 328.8,396.5 329.7,397.7 330,397.7 330.2,397.6 330.5,397.3 331.4,395.7 331.7,395.6 332.1,395.6 333.2,396.7 333.4,396.7 334,396.4 335.1,395.3 335.4,395.2 335.8,395.4 337.2,405.8" fill="none" stroke="#000000" stroke-width="3" stroke-linejoin="round" stroke-dasharray="3 2.1" stroke-dashoffset="4.21"/>
<polyline points="337.2,405.8 338.5,396.9 339,396.9 339.8,397 340.4,396.6 341.1,395.7 341.8,396.2 342.4,397 343.3,397.7 343.9,397.7 344.4,397.3 344.9,441.7" fill="none" stroke="#000000" stroke-width="3" stroke-linejoin="round" stroke-dasharray="3 2.1" stroke-dashoffset="1.82"/>
<polyline points="344.9,441.7 345.3,396.3 345.9,395.7 346.3,395.5 346.9,395.4 347.4,395.6 348.6,388.8 349.8,397.1 351.2,396.1 351.6,395.9 351.9,396 353.3,397.2 354,398.4 355,399.5 355.9,398.3 356.8,396.6 357.1,396.3 357.6,396.1 357.9,396 359,396.7 359.4,396.8 360,396.3 361,394.8 361.3,394.5 361.5,394.4 361.6,394.4 362,394.7 363,396.3 363.5,397 363.8,397.3 365.2,397.8 365.7,398.1 366.2,398.2 366.6,397.9 366.9,397.5 367.6,396.3 367.9,396 368.2,395.9 368.4,396 368.7,396.2 369.4,397.3 369.7,397.6 370,397.7 370.4,397.6 371.6,396.3 372.5,388.6" fill="none" stroke="#000000" stroke-width="3" stroke-linejoin="round" stroke-dasharray="3 2.1" stroke-dashoffset="1.57"/>
<polyline points="372.5,388.6 373.3,396.2 374,396 375.1,392.2 376.2,396.6 376.6,396.8 377.1,397 378.2,408.4" fill="none" stroke="#000000" stroke-width="3" stroke-linejoin="round" stroke-dasharray="3 2.1" stroke-dashoffset="1.4"/>
<polyline points="378.2,408.4 379.3,397.3 379.7,397.5 381.1,403.8 382.4,396.7 383.4,396.1 384.1,396 385.8,396.4 386.9,396.5 388.4,397.2 388.9,397.2 389.2,397.1 390.4,396.4 390.8,396.4 391.1,396.5 391.9,397.3 392.8,416.9" fill="none" stroke="#000000" stroke-width="3" stroke-linejoin="round" stroke-dasharray="3 2.1" stroke-dashoffset="2.9"/>
<polyline points="392.8,416.9 393.6,397.2 394.2,396.9 395.4,392.9 395.9,394.7 396.6,396.1 397.3,395.2 397.6,395 397.8,395 398.3,395.3 399.1,396.4 399.8,395.8 400.9,393.9 402.7,397.3 404.2,398.9 404.8,398.1 405.8,397.1 406.1,397.2 406.4,397.2 407.5,396.5 408.1,396.4 409.1,396.7 410,398 411.1,399 413,396 413.6,396 414,396.1 415.4,397.1 415.9,397.3 416.5,397.3 418.1,396.7 419.4,392.3 420.8,397.3 421.3,397.6 421.7,397.6 421.9,397.5 422.3,398.4 423.2,399.9 423.9,397.3 424.5,395.6 425.2,396.3 425.6,396.6 426,396.7 427.1,396.8 427.8,397.2 428.7,398.7 429,399 429.6,399.2 430.1,398.1 430.7,397.3 431.4,396.9 431.8,397.2 432.2,397.2 432.6,396.9 433.5,395.9 433.8,395.7 434,395.7 434.3,395.9 435.6,397.5 436.7,388.8" fill="none" stroke="#000000" stroke-width="3" stroke-linejoin="round" stroke-dasharray="3 2.1" stroke-dashoffset="0.87"/>
<polyline points="436.7,388.8 437.8,396.4 439.1,396.2 440.2,395.9 440.8,396.4 442,398 442.6,397.8 443.7,396.9 443.9,396.8 444.6,396.8 446.1,397.1 447.4,396.9 449,395.6 449.7,395.3 450.1,395.6 451.1,396.6 451.7,396.8 452,396.8 452.9,396.3 453.3,396.2 453.8,396.2 454.7,396.6 455.2,396.7 456.5,400.8 457.8,397.5 458.2,397.6 458.5,397.5 459.5,396.7 459.9,396.5 460.4,396.6 461.3,396.9 461.7,396.9 462.2,396.5 463.1,395.1 463.6,394.8 463.9,394.8 464.2,394.9 465,396.2 465.3,396.5 465.7,396.6 466.2,396.7 466.7,396.5 467,396.5 468,396.9 468.4,396.9 468.8,396.8 469.7,396.3 470.3,396.3 470.4,396.4 471.5,405.6" fill="none" stroke="#000000" stroke-width="3" stroke-linejoin="round" stroke-dasharray="3 2.1" stroke-dashoffset="2.8"/>
<polyline points="471.5,405.6 472.6,397.3 473.4,396.6 473.8,396.3 474.3,396.3 475.3,396.5 476.6,391.8 477.9,396.6 478.7,396.6 479.9,396.4 481,389 482.1,396.8 483.3,397.1 483.9,397.1 484.3,397 485.4,396.5 486,396.5 487.2,397.3 487.6,398.1 488,398.5 488.3,398.7 488.9,398.9 489.7,397.2 490.2,396.6 490.7,396.1 491.4,396.4 492.7,396.6 494,397.5 494.3,397.6 494.6,397.5 494.9,397.1 496.1,394 496.4,393.5 496.9,393.3 498,396.4 498.4,397.2 498.9,397.5 499.5,396.9 500,396.6 500.3,396.5 501.5,396.5 502.8,395.9 503.3,396 503.9,396.3 504.8,397.5 505.7,398 506.3,397.4 506.8,397.1 507.5,397 508,397.3 508.5,397.4 508.9,397.2 510.3,396.5 511.1,396.3 511.9,396.3 512.6,396.5 513.4,396.9 514.1,398.5 514.8,399.8 516.1,396.5 517.1,396.5 517.6,396.4 518.6,395 519.2,394.4 520.7,396.7 522,397.2 523.4,398 523.8,397.9 524.2,397.5 525.2,396.9 525.6,396.9 525.8,397.1 526.3,396.7 527.3,396.5 527.9,396.6 528.9,396.2 529.4,396.2 530.2,396.8" fill="none" stroke="#000000" stroke-width="3" stroke-linejoin="round" stroke-dasharray="3 2.1" stroke-dashoffset="1.25"/>
</g>
<text x="207.7" y="507.6" font-size="12" text-anchor="end" font-weight="bold">-3</text>
<text x="207.7" y="471.98" font-size="12" text-anchor="end" font-weight="bold">-2</text>
<text x="207.7" y="436.37" font-size="12" text-anchor="end" font-weight="bold">-1</text>
<text x="207.7" y="400.75" font-size="12" text-anchor="end" font-weight="bold">0</text>
<text x="207.7" y="365.13" font-size="12" text-anchor="end" font-weight="bold">1</text>
<text x="207.7" y="329.52" font-size="12" text-anchor="end" font-weight="bold">2</text>
<text x="207.7" y="293.9" font-size="12" text-anchor="end" font-weight="bold">3</text>
<text x="212.5" y="519.4" font-size="12" text-anchor="middle" font-weight="bold">0</text>
<text x="256.62" y="519.4" font-size="12" text-anchor="middle" font-weight="bold">200</text>
<text x="300.75" y="519.4" font-size="12" text-anchor="middle" font-weight="bold">400</text>
<text x="344.88" y="519.4" font-size="12" text-anchor="middle" font-weight="bold">600</text>
<text x="389" y="519.4" font-size="12" text-anchor="middle" font-weight="bold">800</text>
<text x="433.13" y="519.4" font-size="12" text-anchor="middle" font-weight="bold">1000</text>
<text x="477.25" y="519.4" font-size="12" text-anchor="middle" font-weight="bold">1200</text>
<text x="521.38" y="519.4" font-size="12" text-anchor="middle" font-weight="bold">1400</text>
<line x1="344.88" y1="453.64" x2="344.88" y2="465.39" stroke="#008000" stroke-width="3"/>
<text x="213.1" y="288.7" font-size="16.5" font-weight="normal">&#215;</text>
<text x="223.1" y="286.9" font-size="12.2" font-weight="normal" stroke="#000" stroke-width="0.2">10</text>
<text x="235.4" y="280.9" font-size="9.4" font-weight="bold">-4</text>
<text x="371.8" y="534.5" font-size="12" text-anchor="middle" font-weight="bold">Time (min)</text>
<text transform="translate(188.6,423.8) rotate(-90)" font-size="12.4" font-weight="bold"><tspan font-weight="normal" font-size="13" stroke="#000" stroke-width="0.3">&#916;</tspan><tspan dx="1.2" letter-spacing="0.4">Pt</tspan><tspan font-size="9.3" dy="5.2" dx="0.3">12</tspan><tspan dy="-5.2" dx="3.6" letter-spacing="0.1">(pu)</tspan></text>
<ellipse cx="424" cy="394.2" rx="15.7" ry="11.9" fill="none" stroke="#000" stroke-width="1.1" stroke-dasharray="5 2 1.2 2"/>
<line x1="414.3" y1="358.3" x2="417.01" y2="373.62" stroke="#000" stroke-width="1.6"/>
<polygon points="418.4,381.5 412.3,373.44 421.36,371.84" fill="#000"/>
<rect x="374.8" y="306.7" width="144.7" height="47.9" fill="#fff"/>
<line x1="374.8" y1="306.7" x2="374.8" y2="354.6" stroke="#ebebeb" stroke-width="0.9"/>
<line x1="437.93" y1="306.7" x2="437.93" y2="354.6" stroke="#ebebeb" stroke-width="0.9"/>
<line x1="501.07" y1="306.7" x2="501.07" y2="354.6" stroke="#ebebeb" stroke-width="0.9"/>
<line x1="374.8" y1="354.6" x2="519.5" y2="354.6" stroke="#ebebeb" stroke-width="1"/>
<line x1="374.8" y1="330.65" x2="519.5" y2="330.65" stroke="#ebebeb" stroke-width="1"/>
<line x1="374.8" y1="306.7" x2="519.5" y2="306.7" stroke="#ebebeb" stroke-width="1"/>
<clipPath id="c6"><rect x="374.8" y="306.7" width="146.2" height="47.9"/></clipPath>
<g clip-path="url(#c6)">
<polyline points="374.8,321.7 378.1,316.8 378.8,315.9 379.5,315.2 380.2,314.7 381,314.6 381.3,314.7 382.1,315.3 382.8,316.3 383.5,317.6 385,320.7 385.3,321.8 386,324.8 387.9,333.4 388.6,335.8 389.7,337.7 390.8,339.3 391.8,340.4 392.6,340.7 393.7,340.6 395.1,340.2 396.6,339.6 398.4,338.6 399.5,337.4 402,333.5 403.1,332.4 404.9,331.4 406.4,330.8 407.8,330.5 408.9,330.4 410,330.6 411.1,330.9 412.5,331.5 414,332.3 414.3,332.6 415.1,333.5 417.6,338.2 418.7,339.7 419.4,340.3 421.6,341.6 423,342.2 424.1,342.6 425.6,342.8 426.3,342.7 427,342.6 428.1,342.1 436.1,338.2 437.5,337.7 439,337.5 439.7,337.7 440.4,338 443.7,340.7 444.4,341.1 445.2,341.4 445.9,341.5 446.6,341.3 447.7,341 450.6,339.9 451.7,339.6 452.4,339.6 453.1,339.8 453.9,340 457.5,342 458.2,342.2 458.9,342.2 459.3,342.2 460,341.8 461.1,340.9 462.2,339.6 464.4,336.5 465.5,334.3 468,328 469.1,326 470.9,324.1 472,323.3 473.4,322.4 475.3,321.4 478.5,320.3 480,319.6 480.3,319.2 481.1,318 483.2,312.6 484,311.1 484.7,310.1 485,309.9 485.4,310 485.8,310.4 486.5,312.4 488.3,319.5 489,321.5 490.5,323.5 491.9,324.9 493.4,325.8 495.6,326.5 496.3,326.8 496.7,327.1 497,327.8 497.4,329 498.1,332.5 501.4,351 501.7,352.6 502.1,353.6 502.5,353.8 502.8,353.5 503.2,352.7 503.9,350.1 505.7,341.4 506.8,336.9 508.6,328.4 509.3,325.8 509.7,324.9 510.1,324.4 510.4,324.4 510.8,324.4 513.3,325.5 514.4,325.7 514.8,325.5 515.5,325 517.7,322.8 518.4,322.4 519.5,322" fill="none" stroke="#0000ff" stroke-width="3" stroke-linejoin="round"/>
<polyline points="374.8,319.1 375.9,317.2 378.4,312.3 379.5,310.7 380.2,310.1 380.6,309.9 381.3,310 382.1,310.4 382.8,311.3 383.9,313 386.4,318.4 387.1,320.8 388.9,328.4 389.7,331.1 390,332.1 391.5,335.2 392.2,336.3 392.6,336.6 392.9,336.8 395.8,337.4 397.3,337.5 398.4,337.5 398.7,337.3 399.5,336.8 402,333.8 403.1,332.9 405.3,331.9 406.7,331.5 408.2,331.2 409.6,331.3 410.7,331.6 411.8,332 413.6,332.9 414.3,333.4 415.4,334.9 417.6,339.2 418.7,340.9 420.1,342.3 421.9,343.8 423.4,344.7 424.5,345.2 425.2,345.4 426.3,345.4 428.5,344.9 432.1,343.7 436.8,341.4 437.9,341.1 439,340.9 439.7,341.1 440.4,341.4 443.7,344.1 444.8,344.7 445.5,344.9 446.6,344.8 450.6,344.2 452.4,344.1 453.5,344.5 456.4,346.5 457.1,346.7 457.8,346.7 458.9,346.3 460.4,345.3 461.8,343.9 464.4,341.1 465.8,338.8 469.1,332.7 472.4,327.3 474.2,324.8 475.3,323.8 478.5,321.7 480,320.3 480.3,319.8 481.1,318.2 483.2,311.7 484,309.9 484.7,308.8 485,308.6 485.4,308.6 485.8,309 486.5,310.6 488.3,316.4 489,318.3 489.4,318.8 489.8,319.1 490.5,319.4 493.4,320 494.1,320.3 494.8,320.7 495.2,321 495.9,322 497,324.2 497.4,325.3 497.7,326.9 499.6,338 501.4,348 501.7,349.5 502.1,350.5 502.5,350.7 502.8,350.3 503.2,349.6 503.5,348.6 506.1,338.3 508.6,330.1 509.3,328.3 509.7,327.6 510.1,327.2 510.8,326.7 513.3,326 514.4,325.6 515.5,324.6 517.7,322.1 518.4,321.6 519.5,321" fill="none" stroke="#008000" stroke-width="3" stroke-linejoin="round" stroke-dasharray="2.8 2.3"/>
<polyline points="374.8,322.5 375.9,321.1 378.4,317.5 379.5,316.3 380.2,315.8 381,315.7 381.3,315.7 382.1,316.2 382.8,316.9 383.5,317.9 385,320.1 385.3,320.9 386,322.9 387.9,329.1 388.6,331 390,333.8 391.1,335.5 391.8,336.3 392.6,336.7 398.4,336.7 398.7,336.5 399.5,336 402,333.2 403.1,332.4 404.9,331.7 406.7,331.1 408.2,330.9 409.3,331 410.3,331.1 411.8,331.5 413.6,332.1 414.3,332.5 415.4,333.8 417.6,337.5 418.7,339 419.8,339.7 421.9,341 423.4,341.6 424.5,341.9 425.9,342 427,341.8 435.7,338.9 437.5,338.4 439,338.3 439.7,338.4 440.4,338.7 443.7,340.6 444.4,341 445.2,341.2 446.6,341.1 450.6,340.3 452.4,340.2 453.9,340.4 457.5,341.6 458.9,341.7 460,341.4 461.1,340.6 462.2,339.5 464.4,337.2 465.5,335.6 468.7,329.9 470.5,327.7 472.4,325.7 473.8,324.4 474.9,323.7 476,323.1 478.9,321.9 480,321.1 480.3,320.7 481.4,318.7 483.2,314.3 484,312.8 484.7,311.9 485,311.7 485.4,311.8 485.8,312.2 486.5,313.8 488.3,319.5 489,321 490.1,322.2 491.6,323.4 493.4,324.5 495.6,325.2 496.3,325.5 496.7,325.8 497,326.4 497.7,329.1 499.6,337.7 501,343.1 501.7,345.2 502.1,345.8 502.5,345.9 502.8,345.7 503.2,345.2 503.9,343.7 505.7,338.3 508.3,331.6 509,329.8 509.7,328.4 510.1,328 510.8,327.5 511.5,327.1 514.1,326.3 515.1,325.7 517.3,324.2 518,323.9 519.5,323.5" fill="none" stroke="#ff0000" stroke-width="3" stroke-linejoin="round" stroke-dasharray="6.4 0.6"/>
<polyline points="374.8,323 375.9,321.8 378.4,318.3 379.5,317.1 380.2,316.6 381,316.5 381.3,316.5 382.1,316.9 382.8,317.6 383.5,318.5 385,320.6 385.3,321.3 386,323.2 388.2,329.7 389.7,332.5 390.8,334.4 391.5,335.4 392.2,336 392.6,336.2 398.4,336.2 399.5,335.6 402,333.1 403.1,332.3 405.3,331.6 406.7,331.2 408.2,330.9 409.3,331 410.3,331.1 411.8,331.5 413.6,332.1 414.3,332.5 415.4,333.7 417.6,337.1 418.7,338.4 419.8,339.2 421.9,340.4 423.4,341 424.5,341.3 425.9,341.5 427,341.3 435.7,338.8 437.5,338.4 439,338.3 439.7,338.4 440.4,338.6 443.7,340.4 445.2,340.9 446.6,340.9 450.6,340.3 452.4,340.2 453.9,340.4 457.5,341.3 458.9,341.5 460,341.1 461.1,340.4 462.2,339.4 464.4,337.2 465.5,335.7 468,331.5 469.1,329.9 470.9,327.8 472.7,325.9 473.8,325 474.9,324.2 476,323.6 478.9,322.4 480,321.7 480.3,321.3 481.4,319.3 483.2,315 484,313.6 484.7,312.7 485,312.5 485.4,312.6 485.8,313 486.1,313.6 486.9,315.6 488.3,320.1 489,321.6 490.5,322.9 491.9,323.8 493.4,324.5 495.6,325.1 496.3,325.5 496.7,325.8 497,326.4 497.7,328.9 499.2,335.6 500.6,340.5 501.4,342.7 501.7,343.5 502.1,344 502.5,344.1 502.8,343.9 503.2,343.5 503.9,342.2 505.7,337.6 508.6,330.9 509.3,329.5 510.1,328.5 511.2,327.7 514.4,326.4 517.3,324.7 518,324.4 519.5,324" fill="none" stroke="#000000" stroke-width="3" stroke-linejoin="round" stroke-dasharray="3 2.1"/>
</g>
<line x1="374.8" y1="354.6" x2="374.8" y2="352.4" stroke="#7a7a7a" stroke-width="1"/>
<line x1="374.8" y1="306.7" x2="374.8" y2="308.9" stroke="#7a7a7a" stroke-width="1"/>
<line x1="437.93" y1="354.6" x2="437.93" y2="352.4" stroke="#7a7a7a" stroke-width="1"/>
<line x1="437.93" y1="306.7" x2="437.93" y2="308.9" stroke="#7a7a7a" stroke-width="1"/>
<line x1="501.07" y1="354.6" x2="501.07" y2="352.4" stroke="#7a7a7a" stroke-width="1"/>
<line x1="501.07" y1="306.7" x2="501.07" y2="308.9" stroke="#7a7a7a" stroke-width="1"/>
<line x1="374.8" y1="354.6" x2="377" y2="354.6" stroke="#7a7a7a" stroke-width="1"/>
<line x1="519.5" y1="354.6" x2="517.3" y2="354.6" stroke="#7a7a7a" stroke-width="1"/>
<line x1="374.8" y1="330.65" x2="377" y2="330.65" stroke="#7a7a7a" stroke-width="1"/>
<line x1="519.5" y1="330.65" x2="517.3" y2="330.65" stroke="#7a7a7a" stroke-width="1"/>
<line x1="374.8" y1="306.7" x2="377" y2="306.7" stroke="#7a7a7a" stroke-width="1"/>
<line x1="519.5" y1="306.7" x2="517.3" y2="306.7" stroke="#7a7a7a" stroke-width="1"/>
<rect x="374.8" y="306.7" width="144.7" height="47.9" fill="none" stroke="#7a7a7a" stroke-width="1"/>
<text x="370.5" y="358.92" font-size="12.7" text-anchor="end" font-weight="bold">-2</text>
<text x="370.5" y="334.97" font-size="12.7" text-anchor="end" font-weight="bold">0</text>
<text x="370.5" y="311.02" font-size="12.7" text-anchor="end" font-weight="bold">2</text>
<text x="374.8" y="370.6" font-size="12.7" text-anchor="middle" font-weight="bold">850</text>
<text x="437.93" y="370.6" font-size="12.7" text-anchor="middle" font-weight="bold">900</text>
<text x="501.07" y="370.6" font-size="12.7" text-anchor="middle" font-weight="bold">950</text>
<text x="375.7" y="306" font-size="16.5" font-weight="normal">&#215;</text>
<text x="386.2" y="304.2" font-size="12.7" font-weight="normal" stroke="#000" stroke-width="0.2">10</text>
<text x="399.2" y="298.2" font-size="10" font-weight="bold">-5</text>
<rect x="89.8" y="0.5" width="582.2" height="15" fill="#fff" stroke="#5e5e5e" stroke-width="1"/>
<line x1="92.2" y1="8.1" x2="117.8" y2="8.1" stroke="#0000ff" stroke-width="2.9"/>
<text x="119.6" y="11.6" font-size="11" text-anchor="start" font-weight="bold" textLength="97.9" lengthAdjust="spacingAndGlyphs">(LFC&amp;EVs)-(PD-PI)</text>
<line x1="222.6" y1="8.1" x2="246.2" y2="8.1" stroke="#008000" stroke-width="2.8" stroke-dasharray="2.8 2.38"/>
<text x="250.7" y="11.6" font-size="11" text-anchor="start" font-weight="bold" textLength="106.6" lengthAdjust="spacingAndGlyphs">(LFC&amp;SMES)-(PD-PI)</text>
<line x1="362.9" y1="8.1" x2="389" y2="8.1" stroke="#ff0000" stroke-width="2.9" stroke-dasharray="10.1 2.9 5 3.1 5.1 9"/>
<text x="390.7" y="11.6" font-size="11" text-anchor="start" font-weight="bold" textLength="137.2" lengthAdjust="spacingAndGlyphs">(LFC-PD-PI) &amp; (HESSs-PID)</text>
<line x1="533.8" y1="8.1" x2="556.8" y2="8.1" stroke="#000000" stroke-width="2.8" stroke-dasharray="2.7 2.3 2.2 2.8 2.2 2.8 2.2 2.8 2.3 9"/>
<text x="561.6" y="11.6" font-size="11" text-anchor="start" font-weight="bold" textLength="106.8" lengthAdjust="spacingAndGlyphs">(LFC &amp; HESSs)-PD-PI</text>
</svg>
</body></html>
